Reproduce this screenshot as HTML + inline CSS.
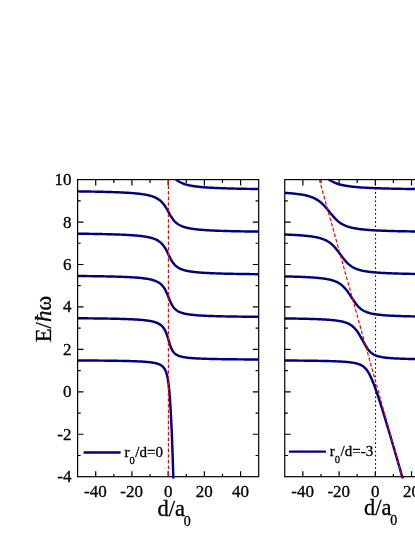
<!DOCTYPE html>
<html><head><meta charset="utf-8"><title>chart</title>
<style>
html,body{margin:0;padding:0;background:#fff;}
body{width:415px;height:537px;overflow:hidden;}
svg{display:block;will-change:transform;}
text{font-family:"Liberation Serif",serif;fill:#000;stroke:#000;stroke-width:0.3px;}
.tk{font-size:17px;}
.lg{font-size:15px;}
.ti{font-size:22.5px;}
.ti2{font-size:22.8px;}
</style></head><body>
<svg width="415" height="537" viewBox="0 0 415 537">
<rect width="415" height="537" fill="#fff"/>
<defs><clipPath id="cl"><rect x="77.60" y="179.60" width="181.10" height="298.90"/></clipPath>
<clipPath id="cr"><rect x="284.75" y="179.60" width="181.10" height="298.90"/></clipPath></defs>
<rect x="77.60" y="179.60" width="181.10" height="297.10" fill="none" stroke="#000" stroke-width="1.2"/>
<path d="M95.71 476.70 v-5.50 M95.71 179.60 v5.90 M113.82 476.70 v-2.70 M113.82 179.60 v3.30 M131.93 476.70 v-5.50 M131.93 179.60 v5.90 M150.04 476.70 v-2.70 M150.04 179.60 v3.30 M168.15 476.70 v-5.50 M168.15 179.60 v5.90 M186.26 476.70 v-2.70 M186.26 179.60 v3.30 M204.37 476.70 v-5.50 M204.37 179.60 v5.90 M222.48 476.70 v-2.70 M222.48 179.60 v3.30 M240.59 476.70 v-5.50 M240.59 179.60 v5.90 M77.60 455.48 h3.10 M258.70 455.48 h-3.10 M77.60 434.26 h5.90 M258.70 434.26 h-5.90 M77.60 413.04 h3.10 M258.70 413.04 h-3.10 M77.60 391.81 h5.90 M258.70 391.81 h-5.90 M77.60 370.59 h3.10 M258.70 370.59 h-3.10 M77.60 349.37 h5.90 M258.70 349.37 h-5.90 M77.60 328.15 h3.10 M258.70 328.15 h-3.10 M77.60 306.93 h5.90 M258.70 306.93 h-5.90 M77.60 285.71 h3.10 M258.70 285.71 h-3.10 M77.60 264.49 h5.90 M258.70 264.49 h-5.90 M77.60 243.26 h3.10 M258.70 243.26 h-3.10 M77.60 222.04 h5.90 M258.70 222.04 h-5.90 M77.60 200.82 h3.10 M258.70 200.82 h-3.10" stroke="#000" stroke-width="1.2" fill="none"/>
<g clip-path="url(#cl)" fill="none" stroke="#00007f" stroke-width="2.45" stroke-linejoin="round">
<path d="M174.43 519.13 L174.42 518.42 L174.40 517.70 L174.38 516.98 L174.36 516.26 L174.35 515.53 L174.33 514.80 L174.31 514.06 L174.29 513.32 L174.27 512.57 L174.25 511.82 L174.23 511.14 L174.22 510.45 L174.20 509.76 L174.18 509.07 L174.16 508.37 L174.15 507.67 L174.13 506.97 L174.11 506.26 L174.09 505.56 L174.07 504.85 L174.06 504.13 L174.04 503.42 L174.02 502.70 L174.00 501.98 L173.98 501.25 L173.96 500.53 L173.94 499.80 L173.92 499.07 L173.90 498.33 L173.88 497.60 L173.86 496.86 L173.84 496.12 L173.82 495.38 L173.80 494.63 L173.78 493.88 L173.76 493.14 L173.74 492.38 L173.72 491.63 L173.70 490.88 L173.68 490.12 L173.66 489.44 L173.64 488.75 L173.62 488.07 L173.60 487.38 L173.58 486.69 L173.56 486.01 L173.54 485.32 L173.52 484.62 L173.50 483.93 L173.48 483.24 L173.46 482.54 L173.44 481.85 L173.42 481.15 L173.40 480.45 L173.38 479.75 L173.36 479.05 L173.34 478.35 L173.32 477.65 L173.30 476.94 L173.28 476.24 L173.26 475.54 L173.24 474.83 L173.21 474.12 L173.19 473.42 L173.17 472.71 L173.15 472.00 L173.13 471.29 L173.11 470.59 L173.08 469.88 L173.06 469.17 L173.04 468.46 L173.02 467.75 L172.99 467.03 L172.97 466.32 L172.95 465.61 L172.93 464.90 L172.90 464.19 L172.88 463.48 L172.86 462.76 L172.83 462.05 L172.81 461.34 L172.79 460.63 L172.76 459.91 L172.74 459.20 L172.72 458.49 L172.69 457.78 L172.67 457.06 L172.64 456.35 L172.62 455.64 L172.60 454.93 L172.57 454.22 L172.55 453.51 L172.52 452.80 L172.50 452.09 L172.47 451.38 L172.45 450.67 L172.42 449.96 L172.40 449.25 L172.37 448.54 L172.35 447.84 L172.32 447.13 L172.29 446.42 L172.27 445.72 L172.24 445.02 L172.22 444.31 L172.19 443.61 L172.16 442.91 L172.14 442.21 L172.11 441.51 L172.08 440.81 L172.06 440.11 L172.03 439.41 L172.00 438.72 L171.97 438.02 L171.95 437.33 L171.92 436.64 L171.89 435.95 L171.86 435.26 L171.84 434.57 L171.81 433.88 L171.78 433.19 L171.75 432.51 L171.72 431.83 L171.69 431.14 L171.66 430.46 L171.63 429.79 L171.61 429.11 L171.58 428.43 L171.55 427.76 L171.52 427.09 L171.49 426.42 L171.45 425.67 L171.42 424.93 L171.39 424.19 L171.35 423.46 L171.32 422.72 L171.28 421.99 L171.25 421.26 L171.21 420.53 L171.18 419.81 L171.14 419.09 L171.11 418.37 L171.07 417.65 L171.03 416.94 L171.00 416.22 L170.96 415.52 L170.92 414.81 L170.89 414.11 L170.85 413.41 L170.81 412.71 L170.77 412.01 L170.73 411.32 L170.70 410.63 L170.66 409.95 L170.62 409.27 L170.58 408.59 L170.54 407.91 L170.50 407.24 L170.46 406.57 L170.42 405.91 L170.38 405.24 L170.33 404.58 L170.29 403.86 L170.24 403.15 L170.19 402.43 L170.15 401.73 L170.10 401.02 L170.05 400.32 L170.00 399.63 L169.95 398.94 L169.90 398.25 L169.85 397.57 L169.80 396.90 L169.75 396.23 L169.69 395.56 L169.64 394.90 L169.59 394.24 L169.53 393.59 L169.47 392.94 L169.41 392.24 L169.35 391.55 L169.29 390.86 L169.22 390.18 L169.16 389.51 L169.09 388.84 L169.02 388.18 L168.95 387.52 L168.88 386.87 L168.81 386.23 L168.73 385.59 L168.66 384.96 L168.58 384.29 L168.49 383.62 L168.40 382.96 L168.31 382.31 L168.22 381.67 L168.12 381.04 L168.03 380.41 L167.93 379.80 L167.82 379.19 L167.72 378.59 L167.61 378.00 L167.48 377.37 L167.35 376.75 L167.22 376.14 L167.08 375.55 L166.94 374.96 L166.79 374.38 L166.63 373.82 L166.46 373.26 L166.29 372.72 L166.11 372.19 L165.91 371.66 L165.71 371.15 L165.50 370.65 L165.27 370.16 L165.02 369.68 L164.77 369.21 L164.49 368.75 L164.19 368.30 L163.88 367.87 L163.56 367.47 L163.22 367.09 L162.85 366.72 L162.49 366.38 L162.10 366.05 L161.68 365.73 L161.26 365.44 L160.81 365.16 L160.33 364.89 L159.85 364.65 L159.34 364.42 L158.85 364.21 L158.32 364.01 L157.75 363.81 L157.21 363.64 L156.63 363.47 L156.01 363.31 L155.42 363.17 L154.80 363.03 L154.14 362.90 L153.53 362.79 L152.89 362.68 L152.21 362.57 L151.49 362.46 L150.85 362.38 L150.18 362.29 L149.46 362.21 L148.71 362.12 L147.92 362.04 L147.25 361.98 L146.54 361.92 L145.81 361.86 L145.04 361.80 L144.22 361.74 L143.37 361.68 L142.70 361.64 L142.00 361.59 L141.28 361.55 L140.53 361.51 L139.74 361.47 L138.93 361.43 L138.08 361.39 L137.19 361.35 L136.26 361.31 L135.29 361.27 L134.28 361.24 L133.58 361.21 L132.86 361.19 L132.12 361.16 L131.35 361.14 L130.56 361.11 L129.75 361.09 L128.91 361.07 L128.04 361.04 L127.14 361.02 L126.21 361.00 L125.25 360.98 L124.26 360.95 L123.24 360.93 L122.18 360.91 L121.08 360.89 L119.94 360.87 L118.76 360.85 L117.54 360.83 L116.27 360.81 L114.96 360.79 L113.60 360.77 L112.89 360.76 L112.18 360.75 L111.45 360.74 L110.71 360.73 L109.95 360.72 L109.18 360.71 L108.39 360.70 L107.59 360.69 L106.77 360.68 L105.93 360.67 L105.08 360.66 L104.21 360.65 L103.32 360.64 L102.42 360.64 L101.49 360.63 L100.55 360.62 L99.58 360.61 L98.60 360.60 L97.59 360.59 L96.56 360.58 L95.51 360.57 L94.44 360.57 L93.34 360.56 L92.22 360.55 L91.07 360.54 L89.90 360.53 L88.70 360.52 L87.47 360.52 L86.21 360.51 L84.93 360.50 L83.61 360.49 L82.27 360.48 L80.89 360.48 L79.47 360.47 L78.03 360.46 L76.55 360.45 L75.03 360.44 L73.47 360.44 L71.88 360.43 L70.24 360.42 L68.56 360.41 L66.84 360.41 L65.08 360.40 L63.27 360.39 L61.41 360.39 L59.50 360.38 L57.54 360.37 L55.53 360.36 L53.46 360.36 L51.33 360.35 L49.15 360.34 L46.90 360.34 L44.59 360.33 L42.22 360.32 L39.77 360.32 L37.25 360.31 L34.66 360.31 L31.99 360.30 L29.25 360.29 L26.41 360.29 L23.49 360.28"/>
<path d="M385.45 359.78 L382.99 359.78 L380.58 359.78 L378.21 359.78 L375.88 359.77 L373.59 359.77 L371.34 359.77 L369.12 359.77 L366.94 359.76 L364.80 359.76 L362.69 359.76 L360.61 359.76 L358.57 359.75 L356.56 359.75 L354.58 359.75 L352.63 359.75 L350.72 359.74 L348.83 359.74 L346.97 359.74 L345.14 359.74 L343.34 359.73 L341.57 359.73 L339.82 359.73 L338.10 359.73 L336.40 359.72 L334.74 359.72 L333.09 359.72 L331.47 359.72 L329.88 359.71 L328.30 359.71 L326.75 359.71 L325.23 359.70 L323.72 359.70 L322.24 359.70 L320.78 359.70 L319.33 359.69 L317.91 359.69 L316.51 359.69 L315.13 359.69 L313.77 359.68 L312.43 359.68 L311.10 359.68 L309.80 359.67 L308.51 359.67 L307.24 359.67 L305.98 359.67 L304.75 359.66 L303.53 359.66 L302.32 359.66 L301.14 359.65 L299.97 359.65 L298.81 359.65 L297.67 359.65 L296.54 359.64 L295.43 359.64 L294.34 359.64 L293.25 359.63 L292.19 359.63 L291.13 359.63 L290.09 359.62 L289.06 359.62 L288.05 359.62 L287.05 359.62 L286.06 359.61 L285.08 359.61 L284.11 359.61 L283.16 359.60 L282.22 359.60 L281.29 359.60 L280.37 359.59 L279.47 359.59 L278.57 359.59 L277.68 359.58 L276.81 359.58 L275.95 359.58 L275.09 359.57 L274.25 359.57 L273.42 359.57 L272.59 359.56 L271.78 359.56 L270.98 359.56 L270.18 359.55 L269.40 359.55 L268.62 359.55 L267.85 359.54 L267.09 359.54 L266.34 359.54 L265.60 359.53 L264.87 359.53 L264.14 359.53 L263.43 359.52 L262.72 359.52 L262.02 359.52 L260.64 359.51 L259.29 359.50 L257.98 359.50 L256.69 359.49 L255.43 359.48 L254.19 359.47 L252.98 359.47 L251.80 359.46 L250.64 359.45 L249.51 359.45 L248.40 359.44 L247.31 359.43 L246.25 359.42 L245.21 359.42 L244.18 359.41 L243.18 359.40 L242.20 359.39 L241.24 359.38 L240.29 359.38 L239.37 359.37 L238.46 359.36 L237.57 359.35 L236.69 359.34 L235.84 359.34 L235.00 359.33 L234.17 359.32 L233.36 359.31 L232.57 359.30 L231.79 359.29 L231.02 359.29 L230.27 359.28 L229.53 359.27 L228.81 359.26 L228.10 359.25 L227.40 359.24 L226.37 359.23 L225.37 359.22 L224.40 359.20 L223.45 359.19 L222.52 359.18 L221.62 359.16 L220.74 359.15 L219.89 359.13 L219.05 359.12 L218.24 359.11 L217.44 359.09 L216.66 359.08 L215.91 359.06 L215.17 359.05 L214.44 359.03 L213.74 359.02 L213.05 359.00 L212.15 358.98 L211.28 358.96 L210.44 358.94 L209.62 358.92 L208.83 358.90 L208.06 358.88 L207.31 358.86 L206.58 358.84 L205.88 358.82 L205.19 358.79 L204.36 358.77 L203.55 358.74 L202.77 358.71 L202.02 358.68 L201.29 358.65 L200.59 358.62 L199.91 358.59 L199.12 358.56 L198.36 358.52 L197.63 358.49 L196.93 358.45 L196.25 358.41 L195.49 358.37 L194.75 358.32 L194.05 358.28 L193.38 358.23 L192.64 358.18 L191.94 358.12 L191.26 358.07 L190.62 358.01 L189.92 357.95 L189.26 357.88 L188.56 357.81 L187.90 357.74 L187.27 357.66 L186.60 357.58 L185.98 357.49 L185.33 357.40 L184.72 357.30 L184.09 357.19 L183.46 357.08 L182.86 356.96 L182.26 356.83 L181.65 356.69 L181.09 356.54 L180.53 356.39 L179.97 356.22 L179.42 356.04 L178.88 355.84 L178.38 355.64 L177.89 355.43 L177.41 355.20 L176.95 354.95 L176.50 354.69 L176.06 354.41 L175.64 354.12 L175.23 353.80 L174.84 353.47 L174.47 353.13 L174.12 352.77 L173.78 352.39 L173.46 352.00 L173.16 351.60 L172.87 351.18 L172.59 350.74 L172.32 350.30 L172.07 349.85 L171.83 349.38 L171.59 348.90 L171.37 348.41 L171.15 347.92 L170.95 347.42 L170.75 346.91 L170.56 346.40 L170.37 345.89 L170.19 345.37 L170.01 344.84 L169.84 344.31 L169.67 343.78 L169.50 343.24 L169.33 342.70 L169.17 342.16 L169.00 341.62 L168.84 341.07 L168.68 340.53 L168.51 339.98 L168.35 339.43 L168.19 338.88 L168.02 338.33 L167.85 337.78 L167.68 337.23 L167.51 336.70 L167.34 336.17 L167.16 335.64 L166.98 335.11 L166.80 334.59 L166.61 334.07 L166.41 333.55 L166.21 333.03 L166.00 332.52 L165.79 332.03 L165.58 331.54 L165.35 331.06 L165.12 330.58 L164.87 330.10 L164.62 329.65 L164.36 329.20 L164.09 328.76 L163.81 328.33 L163.52 327.92 L163.21 327.50 L162.90 327.11 L162.57 326.72 L162.23 326.35 L161.87 325.99 L161.50 325.65 L161.12 325.31 L160.72 324.99 L160.32 324.69 L159.89 324.39 L159.45 324.11 L159.01 323.85 L158.54 323.59 L158.06 323.35 L157.58 323.12 L157.07 322.90 L156.55 322.69 L156.03 322.49 L155.49 322.30 L154.94 322.13 L154.39 321.96 L153.81 321.80 L153.24 321.65 L152.64 321.50 L152.05 321.37 L151.47 321.25 L150.86 321.13 L150.22 321.01 L149.60 320.90 L148.95 320.79 L148.32 320.69 L147.67 320.60 L147.05 320.51 L146.40 320.43 L145.72 320.34 L145.08 320.27 L144.41 320.20 L143.72 320.12 L143.08 320.06 L142.42 320.00 L141.73 319.94 L141.01 319.88 L140.36 319.82 L139.68 319.77 L138.98 319.72 L138.26 319.67 L137.51 319.62 L136.84 319.57 L136.15 319.53 L135.44 319.49 L134.71 319.45 L133.95 319.41 L133.17 319.36 L132.49 319.33 L131.80 319.30 L131.09 319.26 L130.35 319.23 L129.60 319.20 L128.82 319.17 L128.02 319.14 L127.19 319.10 L126.52 319.08 L125.82 319.05 L125.11 319.03 L124.38 319.01 L123.63 318.98 L122.86 318.96 L122.07 318.93 L121.26 318.91 L120.43 318.89 L119.58 318.86 L118.70 318.84 L117.80 318.82 L117.11 318.80 L116.41 318.78 L115.69 318.77 L114.96 318.75 L114.21 318.73 L113.44 318.72 L112.66 318.70 L111.86 318.68 L111.05 318.67 L110.21 318.65 L109.36 318.64 L108.49 318.62 L107.60 318.60 L106.69 318.59 L105.76 318.57 L104.81 318.56 L103.84 318.54 L102.84 318.53 L101.82 318.51 L101.13 318.50 L100.43 318.49 L99.71 318.48 L98.99 318.47 L98.25 318.46 L97.50 318.45 L96.74 318.44 L95.97 318.43 L95.18 318.42 L94.38 318.41 L93.57 318.41 L92.75 318.40 L91.91 318.39 L91.05 318.38 L90.19 318.37 L89.30 318.36 L88.41 318.35 L87.49 318.34 L86.57 318.33 L85.62 318.32 L84.66 318.31 L83.68 318.30 L82.69 318.30 L81.68 318.29 L80.65 318.28 L79.60 318.27 L78.53 318.26 L77.44 318.25 L76.33 318.24 L75.21 318.24 L74.06 318.23 L72.89 318.22 L71.70 318.21 L70.48 318.20 L69.25 318.19 L67.98 318.19 L66.70 318.18 L65.39 318.17 L64.05 318.16 L62.69 318.15 L61.30 318.15 L60.60 318.14 L59.89 318.14 L59.17 318.13 L58.44 318.13 L57.71 318.13 L56.97 318.12 L56.22 318.12 L55.47 318.11 L54.70 318.11 L53.93 318.11 L53.16 318.10 L52.37 318.10 L51.57 318.09 L50.77 318.09 L49.96 318.09 L49.14 318.08 L48.31 318.08 L47.48 318.08 L46.63 318.07 L45.77 318.07 L44.91 318.07 L44.04 318.06 L43.16 318.06 L42.26 318.05 L41.36 318.05 L40.45 318.05 L39.53 318.04 L38.60 318.04 L37.66 318.04 L36.71 318.03 L35.75 318.03 L34.78 318.03 L33.79 318.02 L32.80 318.02 L31.80 318.01 L30.78 318.01 L29.75 318.01 L28.71 318.00 L27.66 318.00 L26.60 318.00 L25.53 317.99 L24.44 317.99 L23.34 317.99"/>
<path d="M384.05 317.24 L382.07 317.23 L380.11 317.23 L378.18 317.23 L376.27 317.23 L374.39 317.22 L372.54 317.22 L370.71 317.22 L368.90 317.21 L367.12 317.21 L365.36 317.21 L363.63 317.21 L361.92 317.20 L360.23 317.20 L358.57 317.20 L356.92 317.19 L355.30 317.19 L353.69 317.19 L352.11 317.18 L350.55 317.18 L349.01 317.18 L347.49 317.18 L345.98 317.17 L344.50 317.17 L343.03 317.17 L341.59 317.16 L340.16 317.16 L338.75 317.16 L337.35 317.15 L335.98 317.15 L334.61 317.15 L333.27 317.14 L331.94 317.14 L330.63 317.14 L329.34 317.13 L328.06 317.13 L326.79 317.13 L325.54 317.12 L324.31 317.12 L323.09 317.12 L321.88 317.12 L320.69 317.11 L319.51 317.11 L318.34 317.11 L317.19 317.10 L316.06 317.10 L314.93 317.09 L313.82 317.09 L312.72 317.09 L311.63 317.08 L310.56 317.08 L309.50 317.08 L308.45 317.07 L307.41 317.07 L306.38 317.07 L305.36 317.06 L304.36 317.06 L303.36 317.06 L302.38 317.05 L301.41 317.05 L300.45 317.05 L299.50 317.04 L298.56 317.04 L297.63 317.04 L296.71 317.03 L295.80 317.03 L294.89 317.02 L294.00 317.02 L293.12 317.02 L292.25 317.01 L291.38 317.01 L290.53 317.01 L289.68 317.00 L288.85 317.00 L288.02 316.99 L287.20 316.99 L286.39 316.99 L285.58 316.98 L284.79 316.98 L284.00 316.98 L283.22 316.97 L282.45 316.97 L281.69 316.96 L280.94 316.96 L280.19 316.96 L279.45 316.95 L278.71 316.95 L277.99 316.95 L277.27 316.94 L276.56 316.94 L275.85 316.93 L275.16 316.93 L273.78 316.92 L272.43 316.91 L271.11 316.91 L269.81 316.90 L268.54 316.89 L267.29 316.88 L266.07 316.87 L264.86 316.86 L263.68 316.86 L262.52 316.85 L261.39 316.84 L260.27 316.83 L259.17 316.82 L258.09 316.81 L257.03 316.80 L256.00 316.80 L254.97 316.79 L253.97 316.78 L252.98 316.77 L252.01 316.76 L251.06 316.75 L250.13 316.74 L249.21 316.73 L248.30 316.72 L247.41 316.72 L246.54 316.71 L245.68 316.70 L244.83 316.69 L244.00 316.68 L243.18 316.67 L242.37 316.66 L241.58 316.65 L240.80 316.64 L240.03 316.63 L239.28 316.62 L238.54 316.61 L237.80 316.60 L237.08 316.59 L236.38 316.58 L235.68 316.57 L234.65 316.56 L233.65 316.54 L232.67 316.53 L231.71 316.51 L230.77 316.50 L229.86 316.48 L228.96 316.46 L228.08 316.45 L227.23 316.43 L226.39 316.42 L225.56 316.40 L224.76 316.38 L223.97 316.37 L223.20 316.35 L222.45 316.34 L221.71 316.32 L220.99 316.30 L220.28 316.28 L219.58 316.27 L218.68 316.24 L217.79 316.22 L216.94 316.20 L216.10 316.18 L215.29 316.15 L214.49 316.13 L213.72 316.10 L212.97 316.08 L212.23 316.06 L211.51 316.03 L210.81 316.01 L210.13 315.98 L209.30 315.95 L208.49 315.92 L207.71 315.89 L206.95 315.85 L206.21 315.82 L205.50 315.79 L204.80 315.75 L204.12 315.72 L203.33 315.68 L202.57 315.64 L201.83 315.60 L201.12 315.55 L200.43 315.51 L199.76 315.47 L199.00 315.42 L198.27 315.37 L197.57 315.32 L196.89 315.26 L196.24 315.21 L195.51 315.15 L194.82 315.09 L194.15 315.03 L193.51 314.96 L192.81 314.89 L192.14 314.82 L191.50 314.74 L190.82 314.66 L190.16 314.58 L189.54 314.49 L188.88 314.39 L188.25 314.30 L187.59 314.19 L186.97 314.08 L186.37 313.97 L185.76 313.85 L185.18 313.73 L184.58 313.59 L184.01 313.46 L183.43 313.31 L182.88 313.16 L182.32 312.99 L181.77 312.82 L181.24 312.64 L180.71 312.44 L180.18 312.24 L179.68 312.03 L179.19 311.80 L178.70 311.56 L178.24 311.31 L177.78 311.05 L177.33 310.77 L176.90 310.49 L176.49 310.19 L176.09 309.88 L175.70 309.56 L175.32 309.22 L174.96 308.87 L174.60 308.51 L174.26 308.14 L173.93 307.75 L173.61 307.35 L173.31 306.95 L173.01 306.53 L172.72 306.10 L172.44 305.67 L172.18 305.23 L171.91 304.78 L171.66 304.32 L171.41 303.85 L171.17 303.38 L170.94 302.91 L170.71 302.43 L170.49 301.95 L170.27 301.47 L170.05 300.96 L169.84 300.46 L169.62 299.95 L169.41 299.44 L169.20 298.93 L168.99 298.41 L168.79 297.90 L168.58 297.38 L168.38 296.88 L168.18 296.38 L167.97 295.88 L167.77 295.38 L167.57 294.89 L167.36 294.39 L167.15 293.89 L166.93 293.39 L166.72 292.90 L166.49 292.41 L166.27 291.92 L166.04 291.43 L165.80 290.94 L165.56 290.48 L165.32 290.01 L165.07 289.55 L164.81 289.10 L164.54 288.65 L164.27 288.21 L163.99 287.78 L163.70 287.36 L163.40 286.94 L163.09 286.54 L162.78 286.14 L162.44 285.75 L162.11 285.37 L161.76 285.00 L161.40 284.65 L161.03 284.31 L160.66 283.98 L160.26 283.66 L159.86 283.35 L159.45 283.05 L159.02 282.77 L158.58 282.49 L158.13 282.22 L157.66 281.96 L157.19 281.72 L156.72 281.49 L156.22 281.26 L155.73 281.06 L155.21 280.85 L154.69 280.66 L154.14 280.47 L153.60 280.29 L153.04 280.12 L152.48 279.96 L151.89 279.80 L151.32 279.65 L150.72 279.51 L150.13 279.38 L149.52 279.25 L148.93 279.13 L148.31 279.01 L147.67 278.90 L147.05 278.79 L146.41 278.69 L145.80 278.60 L145.17 278.51 L144.51 278.42 L143.82 278.33 L143.18 278.25 L142.51 278.17 L141.82 278.09 L141.18 278.03 L140.51 277.96 L139.83 277.89 L139.12 277.83 L138.38 277.76 L137.71 277.71 L137.03 277.65 L136.31 277.59 L135.58 277.54 L134.82 277.49 L134.14 277.44 L133.45 277.39 L132.74 277.35 L132.00 277.30 L131.24 277.26 L130.46 277.22 L129.79 277.18 L129.10 277.14 L128.39 277.11 L127.67 277.07 L126.92 277.04 L126.16 277.00 L125.37 276.97 L124.56 276.94 L123.73 276.90 L123.04 276.88 L122.34 276.85 L121.63 276.82 L120.90 276.80 L120.15 276.77 L119.38 276.74 L118.60 276.72 L117.80 276.69 L116.97 276.67 L116.13 276.64 L115.26 276.62 L114.38 276.59 L113.47 276.57 L112.78 276.55 L112.07 276.53 L111.34 276.51 L110.61 276.50 L109.86 276.48 L109.09 276.46 L108.31 276.44 L107.51 276.43 L106.70 276.41 L105.87 276.39 L105.03 276.37 L104.16 276.36 L103.28 276.34 L102.38 276.32 L101.47 276.31 L100.53 276.29 L99.57 276.27 L98.60 276.26 L97.60 276.24 L96.58 276.22 L95.89 276.21 L95.19 276.20 L94.47 276.19 L93.75 276.18 L93.02 276.17 L92.27 276.16 L91.52 276.15 L90.75 276.14 L89.97 276.13 L89.18 276.12 L88.38 276.11 L87.57 276.10 L86.74 276.09 L85.90 276.08 L85.05 276.07 L84.19 276.06 L83.31 276.05 L82.41 276.04 L81.51 276.03 L80.59 276.02 L79.65 276.01 L78.70 276.00 L77.73 275.99 L76.75 275.98 L75.75 275.97 L74.74 275.96 L73.70 275.95 L72.65 275.94 L71.59 275.93 L70.50 275.93 L69.40 275.92 L68.28 275.91 L67.14 275.90 L65.98 275.89 L64.80 275.88 L63.60 275.87 L62.38 275.86 L61.13 275.85 L59.87 275.84 L58.58 275.84 L57.27 275.83 L55.93 275.82 L54.57 275.81 L53.19 275.80 L52.49 275.80 L51.78 275.79 L51.06 275.79 L50.34 275.78 L49.62 275.78 L48.88 275.78 L48.14 275.77 L47.39 275.77 L46.64 275.76 L45.87 275.76 L45.10 275.75 L44.33 275.75 L43.54 275.75 L42.75 275.74 L41.95 275.74 L41.14 275.73 L40.33 275.73 L39.51 275.73 L38.68 275.72 L37.84 275.72 L36.99 275.71 L36.14 275.71 L35.27 275.71 L34.40 275.70 L33.52 275.70 L32.63 275.69 L31.73 275.69 L30.83 275.69 L29.91 275.68 L28.98 275.68 L28.05 275.68 L27.11 275.67 L26.15 275.67 L25.19 275.66 L24.21 275.66"/>
<path d="M384.76 274.72 L382.97 274.72 L381.20 274.71 L379.46 274.71 L377.74 274.71 L376.04 274.70 L374.36 274.70 L372.70 274.70 L371.06 274.70 L369.44 274.69 L367.84 274.69 L366.26 274.69 L364.70 274.68 L363.15 274.68 L361.63 274.68 L360.12 274.67 L358.63 274.67 L357.16 274.67 L355.70 274.66 L354.26 274.66 L352.84 274.66 L351.44 274.65 L350.05 274.65 L348.67 274.65 L347.31 274.64 L345.97 274.64 L344.64 274.63 L343.33 274.63 L342.03 274.63 L340.75 274.62 L339.48 274.62 L338.22 274.62 L336.98 274.61 L335.75 274.61 L334.53 274.61 L333.33 274.60 L332.14 274.60 L330.97 274.60 L329.80 274.59 L328.65 274.59 L327.52 274.59 L326.39 274.58 L325.27 274.58 L324.17 274.57 L323.08 274.57 L322.00 274.57 L320.93 274.56 L319.88 274.56 L318.83 274.56 L317.79 274.55 L316.77 274.55 L315.76 274.54 L314.75 274.54 L313.76 274.54 L312.78 274.53 L311.80 274.53 L310.84 274.53 L309.89 274.52 L308.94 274.52 L308.01 274.51 L307.08 274.51 L306.16 274.51 L305.26 274.50 L304.36 274.50 L303.47 274.49 L302.59 274.49 L301.72 274.49 L300.85 274.48 L300.00 274.48 L299.15 274.47 L298.31 274.47 L297.48 274.47 L296.66 274.46 L295.85 274.46 L295.04 274.45 L294.24 274.45 L293.45 274.45 L292.66 274.44 L291.89 274.44 L291.12 274.43 L290.35 274.43 L289.60 274.43 L288.85 274.42 L288.11 274.42 L287.37 274.41 L286.65 274.41 L285.93 274.40 L285.21 274.40 L284.50 274.40 L283.80 274.39 L282.42 274.38 L281.06 274.37 L279.72 274.37 L278.41 274.36 L277.12 274.35 L275.86 274.34 L274.62 274.33 L273.39 274.32 L272.19 274.31 L271.01 274.30 L269.85 274.30 L268.71 274.29 L267.59 274.28 L266.49 274.27 L265.40 274.26 L264.34 274.25 L263.29 274.24 L262.25 274.23 L261.24 274.22 L260.24 274.21 L259.26 274.20 L258.29 274.19 L257.34 274.18 L256.40 274.17 L255.48 274.16 L254.58 274.15 L253.68 274.14 L252.80 274.13 L251.94 274.12 L251.09 274.11 L250.25 274.10 L249.42 274.09 L248.61 274.08 L247.81 274.07 L247.02 274.06 L246.24 274.05 L245.47 274.04 L244.72 274.03 L243.97 274.02 L243.24 274.01 L242.52 274.00 L241.80 273.99 L241.10 273.98 L240.41 273.97 L239.39 273.95 L238.39 273.94 L237.42 273.92 L236.46 273.90 L235.52 273.89 L234.61 273.87 L233.71 273.85 L232.83 273.84 L231.96 273.82 L231.12 273.80 L230.29 273.78 L229.48 273.77 L228.68 273.75 L227.90 273.73 L227.13 273.71 L226.38 273.70 L225.65 273.68 L224.92 273.66 L224.21 273.64 L223.52 273.62 L222.83 273.61 L221.94 273.58 L221.07 273.56 L220.22 273.53 L219.40 273.51 L218.59 273.48 L217.80 273.46 L217.03 273.43 L216.27 273.40 L215.54 273.38 L214.82 273.35 L214.12 273.32 L213.43 273.30 L212.59 273.26 L211.78 273.23 L210.99 273.20 L210.22 273.16 L209.47 273.13 L208.74 273.09 L208.03 273.06 L207.33 273.02 L206.66 272.98 L205.87 272.94 L205.11 272.90 L204.37 272.85 L203.65 272.81 L202.95 272.76 L202.28 272.71 L201.62 272.67 L200.88 272.61 L200.16 272.56 L199.46 272.50 L198.79 272.45 L198.14 272.39 L197.42 272.33 L196.72 272.26 L196.05 272.19 L195.40 272.12 L194.70 272.05 L194.02 271.97 L193.37 271.89 L192.74 271.81 L192.07 271.72 L191.43 271.63 L190.81 271.54 L190.15 271.44 L189.53 271.33 L188.92 271.23 L188.29 271.11 L187.69 270.99 L187.07 270.87 L186.47 270.73 L185.90 270.60 L185.31 270.46 L184.75 270.31 L184.18 270.15 L183.63 269.99 L183.08 269.82 L182.55 269.64 L182.02 269.45 L181.51 269.25 L180.99 269.04 L180.48 268.82 L179.99 268.60 L179.50 268.35 L179.04 268.11 L178.57 267.85 L178.13 267.58 L177.69 267.30 L177.28 267.01 L176.86 266.71 L176.47 266.40 L176.07 266.08 L175.70 265.75 L175.32 265.40 L174.97 265.05 L174.61 264.68 L174.27 264.30 L173.94 263.92 L173.62 263.52 L173.30 263.12 L173.00 262.71 L172.71 262.30 L172.42 261.87 L172.14 261.44 L171.86 261.00 L171.59 260.56 L171.33 260.11 L171.08 259.67 L170.82 259.20 L170.56 258.73 L170.32 258.26 L170.07 257.79 L169.83 257.31 L169.59 256.83 L169.35 256.35 L169.12 255.87 L168.88 255.39 L168.65 254.91 L168.42 254.42 L168.18 253.94 L167.95 253.46 L167.71 252.98 L167.48 252.49 L167.24 252.01 L166.99 251.53 L166.76 251.07 L166.52 250.60 L166.27 250.14 L166.02 249.69 L165.77 249.23 L165.51 248.78 L165.24 248.32 L164.97 247.87 L164.70 247.44 L164.42 247.02 L164.14 246.59 L163.84 246.17 L163.54 245.75 L163.23 245.36 L162.92 244.96 L162.59 244.57 L162.26 244.20 L161.92 243.83 L161.57 243.46 L161.21 243.12 L160.84 242.77 L160.45 242.43 L160.07 242.11 L159.66 241.80 L159.26 241.50 L158.83 241.20 L158.41 240.92 L157.96 240.65 L157.52 240.39 L157.05 240.13 L156.59 239.89 L156.11 239.65 L155.63 239.43 L155.12 239.21 L154.62 239.01 L154.10 238.81 L153.59 238.62 L153.05 238.44 L152.49 238.26 L151.93 238.09 L151.36 237.92 L150.79 237.77 L150.20 237.62 L149.63 237.48 L149.03 237.34 L148.41 237.21 L147.81 237.09 L147.19 236.96 L146.59 236.85 L145.97 236.75 L145.33 236.64 L144.72 236.54 L144.09 236.45 L143.43 236.35 L142.75 236.26 L142.11 236.17 L141.45 236.09 L140.77 236.01 L140.06 235.93 L139.41 235.86 L138.74 235.79 L138.04 235.72 L137.32 235.65 L136.67 235.59 L136.00 235.53 L135.31 235.47 L134.59 235.42 L133.86 235.36 L133.09 235.30 L132.42 235.25 L131.73 235.21 L131.02 235.16 L130.29 235.11 L129.54 235.07 L128.77 235.02 L128.10 234.98 L127.42 234.94 L126.73 234.91 L126.01 234.87 L125.28 234.83 L124.53 234.80 L123.76 234.76 L122.97 234.72 L122.16 234.69 L121.32 234.65 L120.64 234.62 L119.94 234.60 L119.23 234.57 L118.50 234.54 L117.76 234.51 L116.99 234.49 L116.22 234.46 L115.42 234.43 L114.60 234.41 L113.77 234.38 L112.92 234.35 L112.04 234.33 L111.15 234.30 L110.46 234.28 L109.77 234.26 L109.06 234.24 L108.34 234.22 L107.60 234.21 L106.85 234.19 L106.09 234.17 L105.31 234.15 L104.52 234.13 L103.71 234.11 L102.89 234.10 L102.05 234.08 L101.20 234.06 L100.33 234.04 L99.44 234.02 L98.53 234.01 L97.61 233.99 L96.67 233.97 L95.71 233.95 L94.73 233.94 L93.73 233.92 L92.71 233.90 L92.02 233.89 L91.32 233.88 L90.60 233.87 L89.88 233.86 L89.15 233.85 L88.41 233.84 L87.66 233.82 L86.90 233.81 L86.12 233.80 L85.34 233.79 L84.54 233.78 L83.74 233.77 L82.92 233.76 L82.09 233.75 L81.24 233.74 L80.39 233.73 L79.52 233.72 L78.64 233.71 L77.75 233.70 L76.84 233.69 L75.92 233.68 L74.98 233.67 L74.03 233.66 L73.07 233.65 L72.09 233.64 L71.09 233.63 L70.08 233.62 L69.06 233.61 L68.02 233.60 L66.96 233.59 L65.88 233.58 L64.79 233.57 L63.68 233.56 L62.55 233.55 L61.41 233.54 L60.24 233.53 L59.06 233.52 L57.86 233.51 L56.63 233.50 L55.39 233.49 L54.12 233.48 L52.84 233.47 L51.53 233.46 L50.20 233.45 L48.84 233.45 L47.47 233.44 L46.77 233.43 L46.07 233.43 L45.36 233.42 L44.64 233.42 L43.92 233.41 L43.19 233.41 L42.45 233.41 L41.71 233.40 L40.96 233.40 L40.21 233.39 L39.45 233.39 L38.68 233.38 L37.90 233.38 L37.12 233.38 L36.33 233.37 L35.54 233.37 L34.73 233.36 L33.92 233.36 L33.10 233.35 L32.28 233.35 L31.44 233.35 L30.60 233.34 L29.75 233.34 L28.90 233.33 L28.03 233.33 L27.16 233.32 L26.28 233.32 L25.39 233.32 L24.49 233.31 L23.58 233.31"/>
<path d="M385.18 232.22 L383.52 232.21 L381.88 232.21 L380.25 232.21 L378.65 232.20 L377.07 232.20 L375.50 232.20 L373.95 232.19 L372.42 232.19 L370.90 232.19 L369.40 232.18 L367.92 232.18 L366.46 232.17 L365.01 232.17 L363.58 232.17 L362.16 232.16 L360.76 232.16 L359.37 232.16 L358.00 232.15 L356.64 232.15 L355.30 232.15 L353.97 232.14 L352.66 232.14 L351.36 232.14 L350.07 232.13 L348.80 232.13 L347.54 232.12 L346.29 232.12 L345.06 232.12 L343.84 232.11 L342.63 232.11 L341.43 232.11 L340.25 232.10 L339.08 232.10 L337.92 232.09 L336.77 232.09 L335.64 232.09 L334.51 232.08 L333.40 232.08 L332.30 232.07 L331.21 232.07 L330.13 232.07 L329.06 232.06 L328.00 232.06 L326.96 232.06 L325.92 232.05 L324.89 232.05 L323.87 232.04 L322.87 232.04 L321.87 232.04 L320.88 232.03 L319.90 232.03 L318.93 232.02 L317.97 232.02 L317.02 232.02 L316.08 232.01 L315.15 232.01 L314.22 232.00 L313.31 232.00 L312.40 232.00 L311.51 231.99 L310.62 231.99 L309.73 231.98 L308.86 231.98 L308.00 231.97 L307.14 231.97 L306.29 231.97 L305.45 231.96 L304.62 231.96 L303.79 231.95 L302.97 231.95 L302.16 231.94 L301.36 231.94 L300.56 231.94 L299.77 231.93 L298.99 231.93 L298.21 231.92 L297.45 231.92 L296.68 231.91 L295.93 231.91 L295.18 231.91 L294.44 231.90 L293.70 231.90 L292.98 231.89 L292.25 231.89 L291.54 231.88 L290.83 231.88 L290.12 231.87 L289.43 231.87 L288.05 231.86 L286.70 231.85 L285.36 231.84 L284.06 231.83 L282.77 231.82 L281.50 231.82 L280.26 231.81 L279.04 231.80 L277.83 231.79 L276.65 231.78 L275.48 231.77 L274.34 231.76 L273.21 231.75 L272.10 231.74 L271.01 231.73 L269.93 231.72 L268.87 231.71 L267.83 231.70 L266.81 231.69 L265.80 231.68 L264.80 231.67 L263.82 231.66 L262.86 231.65 L261.91 231.64 L260.98 231.63 L260.05 231.62 L259.15 231.61 L258.25 231.60 L257.37 231.59 L256.50 231.58 L255.65 231.57 L254.80 231.56 L253.97 231.55 L253.16 231.54 L252.35 231.53 L251.55 231.51 L250.77 231.50 L249.99 231.49 L249.23 231.48 L248.48 231.47 L247.74 231.46 L247.01 231.45 L246.29 231.44 L245.58 231.43 L244.87 231.42 L244.18 231.40 L243.16 231.39 L242.16 231.37 L241.18 231.35 L240.22 231.34 L239.28 231.32 L238.36 231.30 L237.45 231.28 L236.56 231.27 L235.69 231.25 L234.84 231.23 L234.00 231.21 L233.18 231.19 L232.37 231.18 L231.58 231.16 L230.80 231.14 L230.04 231.12 L229.29 231.10 L228.55 231.08 L227.83 231.06 L227.12 231.04 L226.43 231.03 L225.74 231.01 L224.85 230.98 L223.97 230.95 L223.12 230.93 L222.29 230.90 L221.47 230.87 L220.67 230.85 L219.90 230.82 L219.13 230.79 L218.39 230.77 L217.66 230.74 L216.95 230.71 L216.25 230.68 L215.56 230.66 L214.73 230.62 L213.92 230.58 L213.13 230.55 L212.36 230.51 L211.61 230.47 L210.87 230.44 L210.16 230.40 L209.46 230.36 L208.78 230.33 L208.12 230.29 L207.35 230.24 L206.60 230.19 L205.86 230.15 L205.15 230.10 L204.46 230.05 L203.79 230.00 L203.14 229.96 L202.40 229.90 L201.68 229.84 L200.98 229.78 L200.31 229.72 L199.66 229.66 L198.93 229.60 L198.23 229.53 L197.55 229.46 L196.90 229.39 L196.27 229.31 L195.58 229.23 L194.91 229.15 L194.27 229.07 L193.65 228.98 L192.99 228.89 L192.35 228.79 L191.73 228.70 L191.08 228.59 L190.45 228.48 L189.85 228.37 L189.21 228.25 L188.61 228.13 L188.03 228.00 L187.42 227.87 L186.84 227.73 L186.24 227.58 L185.67 227.43 L185.12 227.27 L184.55 227.11 L184.02 226.94 L183.47 226.75 L182.94 226.57 L182.41 226.37 L181.90 226.16 L181.38 225.95 L180.89 225.73 L180.40 225.49 L179.92 225.25 L179.45 225.00 L178.99 224.74 L178.54 224.47 L178.10 224.19 L177.67 223.89 L177.25 223.59 L176.85 223.29 L176.45 222.97 L176.07 222.65 L175.68 222.31 L175.32 221.96 L174.96 221.61 L174.61 221.24 L174.26 220.87 L173.93 220.50 L173.60 220.10 L173.28 219.71 L172.97 219.31 L172.67 218.90 L172.37 218.50 L172.07 218.07 L171.78 217.64 L171.50 217.21 L171.22 216.77 L170.95 216.34 L170.68 215.90 L170.42 215.46 L170.16 215.02 L169.90 214.57 L169.65 214.12 L169.39 213.66 L169.13 213.20 L168.87 212.73 L168.61 212.27 L168.35 211.80 L168.09 211.33 L167.84 210.87 L167.59 210.42 L167.33 209.97 L167.08 209.52 L166.82 209.07 L166.56 208.62 L166.30 208.18 L166.03 207.73 L165.76 207.29 L165.48 206.85 L165.20 206.41 L164.91 205.98 L164.62 205.56 L164.33 205.14 L164.03 204.73 L163.72 204.32 L163.41 203.92 L163.09 203.53 L162.77 203.14 L162.43 202.76 L162.08 202.38 L161.74 202.02 L161.38 201.66 L161.01 201.31 L160.64 200.98 L160.25 200.64 L159.85 200.32 L159.45 200.00 L159.04 199.70 L158.62 199.41 L158.19 199.12 L157.74 198.84 L157.29 198.57 L156.82 198.31 L156.35 198.06 L155.87 197.82 L155.39 197.59 L154.89 197.36 L154.39 197.15 L153.87 196.94 L153.36 196.75 L152.83 196.56 L152.28 196.37 L151.74 196.19 L151.17 196.02 L150.62 195.86 L150.05 195.70 L149.45 195.55 L148.87 195.40 L148.27 195.26 L147.70 195.13 L147.09 195.01 L146.47 194.88 L145.88 194.77 L145.26 194.65 L144.62 194.54 L144.01 194.44 L143.39 194.34 L142.74 194.24 L142.07 194.15 L141.44 194.06 L140.79 193.97 L140.12 193.89 L139.43 193.81 L138.79 193.73 L138.13 193.66 L137.45 193.59 L136.75 193.51 L136.03 193.44 L135.37 193.38 L134.70 193.32 L134.01 193.26 L133.29 193.20 L132.56 193.14 L131.80 193.08 L131.13 193.03 L130.44 192.98 L129.74 192.93 L129.01 192.88 L128.27 192.84 L127.50 192.79 L126.71 192.74 L126.04 192.70 L125.35 192.66 L124.64 192.62 L123.92 192.58 L123.18 192.55 L122.42 192.51 L121.64 192.47 L120.84 192.43 L120.02 192.40 L119.35 192.37 L118.66 192.34 L117.97 192.31 L117.25 192.28 L116.52 192.25 L115.78 192.22 L115.02 192.20 L114.24 192.17 L113.45 192.14 L112.64 192.11 L111.81 192.08 L110.96 192.06 L110.09 192.03 L109.21 192.00 L108.30 191.98 L107.61 191.96 L106.90 191.94 L106.18 191.92 L105.45 191.90 L104.71 191.88 L103.95 191.86 L103.18 191.84 L102.40 191.82 L101.60 191.80 L100.79 191.78 L99.96 191.76 L99.12 191.74 L98.26 191.73 L97.39 191.71 L96.50 191.69 L95.59 191.67 L94.66 191.65 L93.72 191.63 L92.76 191.62 L91.78 191.60 L90.78 191.58 L89.76 191.56 L89.07 191.55 L88.37 191.54 L87.66 191.53 L86.95 191.52 L86.22 191.51 L85.48 191.49 L84.73 191.48 L83.98 191.47 L83.21 191.46 L82.43 191.45 L81.64 191.44 L80.84 191.43 L80.03 191.41 L79.21 191.40 L78.37 191.39 L77.53 191.38 L76.67 191.37 L75.80 191.36 L74.92 191.35 L74.02 191.34 L73.12 191.33 L72.19 191.32 L71.26 191.31 L70.31 191.30 L69.35 191.29 L68.37 191.28 L67.38 191.26 L66.38 191.25 L65.35 191.24 L64.32 191.23 L63.27 191.22 L62.20 191.21 L61.11 191.20 L60.01 191.19 L58.89 191.18 L57.76 191.17 L56.60 191.16 L55.43 191.15 L54.24 191.14 L53.03 191.13 L51.80 191.12 L50.55 191.11 L49.29 191.11 L48.00 191.10 L46.69 191.09 L45.35 191.08 L44.00 191.07 L42.62 191.06 L41.93 191.05 L41.22 191.05 L40.51 191.04 L39.80 191.04 L39.08 191.03 L38.35 191.03 L37.62 191.03 L36.88 191.02 L36.13 191.02 L35.38 191.01 L34.62 191.01 L33.86 191.00 L33.09 191.00 L32.31 190.99 L31.53 190.99 L30.73 190.99 L29.94 190.98 L29.13 190.98 L28.32 190.97 L27.50 190.97 L26.67 190.96 L25.84 190.96 L25.00 190.95 L24.15 190.95 L23.29 190.95"/>
<path d="M384.76 189.72 L383.20 189.71 L381.66 189.71 L380.13 189.71 L378.62 189.70 L377.13 189.70 L375.65 189.70 L374.19 189.69 L372.74 189.69 L371.31 189.68 L369.89 189.68 L368.49 189.68 L367.10 189.67 L365.73 189.67 L364.37 189.67 L363.03 189.66 L361.69 189.66 L360.38 189.66 L359.07 189.65 L357.78 189.65 L356.50 189.64 L355.24 189.64 L353.99 189.64 L352.75 189.63 L351.52 189.63 L350.31 189.62 L349.11 189.62 L347.91 189.62 L346.74 189.61 L345.57 189.61 L344.41 189.60 L343.27 189.60 L342.14 189.60 L341.01 189.59 L339.90 189.59 L338.80 189.58 L337.71 189.58 L336.63 189.58 L335.56 189.57 L334.50 189.57 L333.45 189.56 L332.41 189.56 L331.38 189.56 L330.36 189.55 L329.35 189.55 L328.35 189.54 L327.36 189.54 L326.38 189.54 L325.41 189.53 L324.44 189.53 L323.49 189.52 L322.54 189.52 L321.60 189.51 L320.68 189.51 L319.75 189.51 L318.84 189.50 L317.94 189.50 L317.04 189.49 L316.15 189.49 L315.27 189.48 L314.40 189.48 L313.54 189.48 L312.68 189.47 L311.83 189.47 L310.99 189.46 L310.16 189.46 L309.33 189.45 L308.51 189.45 L307.70 189.45 L306.89 189.44 L306.09 189.44 L305.30 189.43 L304.52 189.43 L303.74 189.42 L302.97 189.42 L302.20 189.41 L301.44 189.41 L300.69 189.40 L299.95 189.40 L299.21 189.40 L298.48 189.39 L297.75 189.39 L297.03 189.38 L296.31 189.38 L295.60 189.37 L294.90 189.37 L294.20 189.36 L292.83 189.35 L291.47 189.34 L290.14 189.34 L288.83 189.33 L287.54 189.32 L286.27 189.31 L285.02 189.30 L283.80 189.29 L282.59 189.28 L281.40 189.27 L280.22 189.26 L279.07 189.25 L277.93 189.24 L276.82 189.23 L275.71 189.22 L274.63 189.21 L273.56 189.20 L272.51 189.19 L271.47 189.18 L270.45 189.17 L269.45 189.16 L268.45 189.15 L267.48 189.14 L266.52 189.13 L265.57 189.11 L264.63 189.10 L263.71 189.09 L262.80 189.08 L261.91 189.07 L261.03 189.06 L260.16 189.05 L259.30 189.04 L258.45 189.03 L257.62 189.02 L256.80 189.01 L255.98 189.00 L255.18 188.98 L254.40 188.97 L253.62 188.96 L252.85 188.95 L252.09 188.94 L251.34 188.93 L250.61 188.92 L249.88 188.90 L249.16 188.89 L248.45 188.88 L247.75 188.87 L247.06 188.86 L246.05 188.84 L245.05 188.82 L244.07 188.81 L243.11 188.79 L242.16 188.77 L241.24 188.75 L240.33 188.73 L239.44 188.71 L238.57 188.70 L237.71 188.68 L236.86 188.66 L236.04 188.64 L235.22 188.62 L234.43 188.60 L233.64 188.58 L232.87 188.56 L232.11 188.54 L231.37 188.52 L230.64 188.50 L229.92 188.49 L229.22 188.47 L228.52 188.45 L227.84 188.43 L226.95 188.40 L226.08 188.37 L225.23 188.34 L224.39 188.32 L223.58 188.29 L222.78 188.26 L222.00 188.23 L221.23 188.21 L220.48 188.18 L219.75 188.15 L219.03 188.12 L218.33 188.09 L217.64 188.06 L216.97 188.03 L216.15 188.00 L215.34 187.96 L214.56 187.92 L213.80 187.88 L213.05 187.84 L212.32 187.81 L211.61 187.77 L210.92 187.73 L210.24 187.69 L209.58 187.65 L208.81 187.60 L208.05 187.55 L207.32 187.50 L206.61 187.46 L205.92 187.41 L205.24 187.36 L204.58 187.31 L203.84 187.25 L203.11 187.19 L202.41 187.13 L201.73 187.07 L201.07 187.00 L200.43 186.94 L199.71 186.87 L199.02 186.80 L198.35 186.73 L197.70 186.65 L197.08 186.58 L196.39 186.49 L195.73 186.41 L195.09 186.32 L194.47 186.24 L193.81 186.14 L193.17 186.04 L192.55 185.94 L191.90 185.83 L191.27 185.72 L190.66 185.60 L190.07 185.49 L189.46 185.36 L188.87 185.23 L188.25 185.09 L187.66 184.95 L187.09 184.81 L186.50 184.65 L185.93 184.49 L185.39 184.33 L184.83 184.16 L184.30 183.98 L183.75 183.79 L183.23 183.60 L182.69 183.39 L182.18 183.19 L181.69 182.97 L181.20 182.75 L180.72 182.52 L180.24 182.27 L179.78 182.02 L179.31 181.76 L178.86 181.49 L178.41 181.21 L177.98 180.92 L177.57 180.63 L177.15 180.32 L176.75 180.01 L176.36 179.69 L175.97 179.36 L175.60 179.02 L175.24 178.68 L174.87 178.33 L174.52 177.96 L174.18 177.60 L173.83 177.22 L173.50 176.83 L173.18 176.44 L172.86 176.05 L172.55 175.66 L172.24 175.25 L171.93 174.83 L171.63 174.41 L171.34 173.99 L171.05 173.57 L170.76 173.15 L170.48 172.72 L170.21 172.29 L169.93 171.86 L169.66 171.43 L169.39 171.00 L169.11 170.55 L168.84 170.11 L168.56 169.66 L168.28 169.21 L168.01 168.76 L167.74 168.32 L167.47 167.89 L167.20 167.46 L166.93 167.03 L166.65 166.59 L166.38 166.16 L166.10 165.74 L165.81 165.31 L165.52 164.88 L165.23 164.46 L164.93 164.04 L164.62 163.61 L164.32 163.21 L164.01 162.81 L163.69 162.42 L163.37 162.02 L163.04 161.63 L162.71 161.25 L162.37 160.88 L162.02 160.52 L161.66 160.15 L161.30 159.80 L160.93 159.46 L160.55 159.12 L160.17 158.80 L159.77 158.47 L159.37 158.16 L158.96 157.86 L158.54 157.56 L158.10 157.27 L157.67 156.99 L157.22 156.72 L156.77 156.46 L156.31 156.21 L155.83 155.96 L155.35 155.72 L154.85 155.49 L154.36 155.27 L153.85 155.06 L153.32 154.84 L152.80 154.65 L152.26 154.45 L151.73 154.27 L151.18 154.09 L150.61 153.91 L150.05 153.75 L149.47 153.59 L148.91 153.44 L148.33 153.29 L147.73 153.15 L147.15 153.02 L146.55 152.88 L145.92 152.76 L145.33 152.64 L144.71 152.52 L144.08 152.41 L143.48 152.30 L142.86 152.20 L142.21 152.10 L141.55 152.00 L140.93 151.91 L140.29 151.82 L139.63 151.73 L138.95 151.65 L138.33 151.57 L137.68 151.49 L137.02 151.42 L136.33 151.34 L135.63 151.27 L134.99 151.21 L134.33 151.14 L133.66 151.08 L132.97 151.02 L132.25 150.96 L131.52 150.90 L130.76 150.83 L130.10 150.78 L129.41 150.73 L128.71 150.68 L127.99 150.63 L127.25 150.58 L126.50 150.53 L125.72 150.48 L125.05 150.44 L124.37 150.40 L123.67 150.36 L122.96 150.32 L122.23 150.28 L121.48 150.24 L120.71 150.20 L119.93 150.16 L119.12 150.13 L118.30 150.09 L117.62 150.06 L116.94 150.03 L116.24 150.00 L115.52 149.97 L114.79 149.94 L114.04 149.91 L113.28 149.88 L112.51 149.85 L111.71 149.82 L110.90 149.79 L110.08 149.77 L109.23 149.74 L108.37 149.71 L107.49 149.68 L106.58 149.65 L105.89 149.63 L105.19 149.61 L104.48 149.59 L103.75 149.57 L103.02 149.55 L102.27 149.53 L101.50 149.51 L100.73 149.49 L99.94 149.47 L99.13 149.45 L98.32 149.43 L97.48 149.42 L96.64 149.40 L95.78 149.38 L94.90 149.36 L94.00 149.34 L93.09 149.32 L92.17 149.30 L91.22 149.28 L90.26 149.26 L89.28 149.25 L88.28 149.23 L87.26 149.21 L86.57 149.20 L85.88 149.19 L85.17 149.17 L84.45 149.16 L83.73 149.15 L82.99 149.14 L82.25 149.13 L81.49 149.11 L80.73 149.10 L79.96 149.09 L79.17 149.08 L78.38 149.07 L77.57 149.06 L76.75 149.05 L75.93 149.03 L75.09 149.02 L74.24 149.01 L73.38 149.00 L72.50 148.99 L71.62 148.98 L70.72 148.97 L69.81 148.96 L68.88 148.94 L67.95 148.93 L67.00 148.92 L66.03 148.91 L65.05 148.90 L64.06 148.89 L63.06 148.88 L62.04 148.87 L61.00 148.86 L59.95 148.85 L58.88 148.84 L57.80 148.83 L56.70 148.82 L55.59 148.81 L54.46 148.80 L53.31 148.79 L52.14 148.78 L50.96 148.77 L49.76 148.76 L48.53 148.75 L47.29 148.74 L46.04 148.73 L44.76 148.72 L43.46 148.71 L42.14 148.70 L40.80 148.69 L39.43 148.68 L38.05 148.67 L37.35 148.66 L36.64 148.66 L35.93 148.65 L35.21 148.65 L34.49 148.64 L33.76 148.64 L33.02 148.63 L32.28 148.63 L31.53 148.62 L30.78 148.62 L30.02 148.62 L29.25 148.61 L28.48 148.61 L27.70 148.60 L26.91 148.60 L26.12 148.59 L25.32 148.59 L24.52 148.58 L23.70 148.58"/>
</g>
<line x1="168.42" y1="179.80" x2="168.42" y2="477.30" stroke="#ff0000" stroke-width="1.15" stroke-dasharray="3.6 2.0" clip-path="url(#cl)"/>
<text x="95.41" y="496.70" text-anchor="middle" class="tk">-40</text>
<text x="131.63" y="496.70" text-anchor="middle" class="tk">-20</text>
<text x="168.15" y="496.70" text-anchor="middle" class="tk">0</text>
<text x="204.37" y="496.70" text-anchor="middle" class="tk">20</text>
<text x="240.59" y="496.70" text-anchor="middle" class="tk">40</text>
<line x1="83.60" y1="452.50" x2="120.60" y2="452.50" stroke="#00007f" stroke-width="2.4"/>
<text x="124.40" y="457.20" class="lg">r<tspan dy="6.4" font-size="10.5">0</tspan><tspan dy="-6.4" dx="0.6">/d=0</tspan></text>
<text x="157.50" y="516.00" class="ti">d/a<tspan dy="9.5" dx="-1.2" font-size="14">0</tspan></text>
<rect x="284.75" y="179.60" width="181.10" height="297.10" fill="none" stroke="#000" stroke-width="1.2"/>
<path d="M302.86 476.70 v-5.50 M302.86 179.60 v5.90 M320.97 476.70 v-2.70 M320.97 179.60 v3.30 M339.08 476.70 v-5.50 M339.08 179.60 v5.90 M357.19 476.70 v-2.70 M357.19 179.60 v3.30 M375.30 476.70 v-5.50 M375.30 179.60 v5.90 M393.41 476.70 v-2.70 M393.41 179.60 v3.30 M411.52 476.70 v-5.50 M411.52 179.60 v5.90 M429.63 476.70 v-2.70 M429.63 179.60 v3.30 M447.74 476.70 v-5.50 M447.74 179.60 v5.90 M284.75 455.48 h3.10 M465.85 455.48 h-3.10 M284.75 434.26 h5.90 M465.85 434.26 h-5.90 M284.75 413.04 h3.10 M465.85 413.04 h-3.10 M284.75 391.81 h5.90 M465.85 391.81 h-5.90 M284.75 370.59 h3.10 M465.85 370.59 h-3.10 M284.75 349.37 h5.90 M465.85 349.37 h-5.90 M284.75 328.15 h3.10 M465.85 328.15 h-3.10 M284.75 306.93 h5.90 M465.85 306.93 h-5.90 M284.75 285.71 h3.10 M465.85 285.71 h-3.10 M284.75 264.49 h5.90 M465.85 264.49 h-5.90 M284.75 243.26 h3.10 M465.85 243.26 h-3.10 M284.75 222.04 h5.90 M465.85 222.04 h-5.90 M284.75 200.82 h3.10 M465.85 200.82 h-3.10" stroke="#000" stroke-width="1.2" fill="none"/>
<line x1="375.55" y1="179.60" x2="375.55" y2="476.70" stroke="#000" stroke-width="1.05" stroke-dasharray="1.6 2.57"/>
<g clip-path="url(#cr)" fill="none" stroke="#00007f" stroke-width="2.45" stroke-linejoin="round">
<path d="M414.18 519.13 L414.02 518.55 L413.85 517.97 L413.69 517.38 L413.52 516.79 L413.35 516.19 L413.19 515.60 L413.02 515.00 L412.85 514.39 L412.68 513.79 L412.51 513.18 L412.34 512.57 L412.16 511.96 L412.01 511.41 L411.86 510.86 L411.70 510.31 L411.55 509.76 L411.39 509.21 L411.23 508.65 L411.08 508.09 L410.92 507.53 L410.76 506.97 L410.60 506.41 L410.44 505.84 L410.28 505.27 L410.12 504.70 L409.96 504.13 L409.80 503.56 L409.64 502.99 L409.47 502.41 L409.31 501.83 L409.15 501.25 L408.98 500.67 L408.82 500.09 L408.65 499.51 L408.49 498.92 L408.32 498.33 L408.16 497.74 L407.99 497.15 L407.82 496.56 L407.65 495.97 L407.49 495.38 L407.32 494.78 L407.15 494.18 L406.98 493.59 L406.81 492.99 L406.64 492.38 L406.47 491.78 L406.30 491.18 L406.12 490.58 L405.95 489.97 L405.78 489.36 L405.61 488.75 L405.44 488.15 L405.26 487.54 L405.09 486.92 L404.91 486.31 L404.74 485.70 L404.56 485.08 L404.39 484.47 L404.21 483.85 L404.04 483.24 L403.86 482.62 L403.69 482.00 L403.51 481.38 L403.33 480.76 L403.16 480.14 L402.98 479.52 L402.82 478.97 L402.67 478.43 L402.51 477.88 L402.35 477.33 L402.20 476.79 L402.04 476.24 L401.89 475.69 L401.73 475.14 L401.57 474.60 L401.41 474.05 L401.26 473.50 L401.10 472.95 L400.94 472.40 L400.78 471.85 L400.63 471.29 L400.47 470.74 L400.31 470.19 L400.15 469.64 L399.99 469.09 L399.83 468.53 L399.67 467.98 L399.52 467.43 L399.36 466.88 L399.20 466.32 L399.04 465.77 L398.88 465.22 L398.72 464.66 L398.56 464.11 L398.40 463.55 L398.24 463.00 L398.08 462.45 L397.92 461.89 L397.76 461.34 L397.60 460.78 L397.44 460.23 L397.28 459.68 L397.12 459.12 L396.96 458.57 L396.80 458.01 L396.64 457.46 L396.48 456.91 L396.32 456.35 L396.16 455.80 L396.00 455.24 L395.84 454.69 L395.68 454.14 L395.51 453.59 L395.35 453.03 L395.19 452.48 L395.03 451.93 L394.87 451.38 L394.71 450.82 L394.55 450.27 L394.39 449.72 L394.23 449.17 L394.07 448.62 L393.91 448.07 L393.75 447.52 L393.59 446.97 L393.43 446.42 L393.26 445.88 L393.10 445.33 L392.94 444.78 L392.78 444.23 L392.62 443.69 L392.46 443.14 L392.30 442.60 L392.14 442.05 L391.98 441.51 L391.82 440.96 L391.66 440.42 L391.50 439.88 L391.34 439.34 L391.18 438.79 L391.02 438.25 L390.84 437.64 L390.66 437.02 L390.48 436.41 L390.29 435.79 L390.11 435.18 L389.93 434.57 L389.75 433.96 L389.57 433.35 L389.39 432.74 L389.21 432.13 L389.02 431.52 L388.84 430.92 L388.66 430.31 L388.48 429.71 L388.30 429.11 L388.12 428.51 L387.94 427.91 L387.76 427.31 L387.58 426.71 L387.41 426.12 L387.23 425.52 L387.05 424.93 L386.87 424.34 L386.69 423.75 L386.51 423.16 L386.33 422.57 L386.16 421.99 L385.98 421.41 L385.80 420.82 L385.63 420.24 L385.45 419.66 L385.27 419.09 L385.10 418.51 L384.92 417.94 L384.75 417.36 L384.57 416.79 L384.40 416.22 L384.22 415.66 L384.05 415.09 L383.87 414.53 L383.70 413.97 L383.53 413.41 L383.35 412.85 L383.18 412.29 L383.01 411.74 L382.84 411.19 L382.66 410.63 L382.49 410.09 L382.32 409.54 L382.15 409.00 L381.98 408.45 L381.81 407.91 L381.64 407.37 L381.47 406.84 L381.30 406.30 L381.13 405.77 L380.94 405.18 L380.75 404.58 L380.56 403.99 L380.38 403.41 L380.19 402.82 L380.00 402.24 L379.81 401.66 L379.63 401.09 L379.44 400.51 L379.25 399.94 L379.07 399.38 L378.88 398.81 L378.70 398.25 L378.51 397.70 L378.33 397.14 L378.15 396.59 L377.96 396.04 L377.78 395.50 L377.60 394.96 L377.42 394.42 L377.24 393.89 L377.05 393.35 L376.87 392.83 L376.69 392.30 L376.51 391.78 L376.31 391.21 L376.11 390.63 L375.91 390.07 L375.71 389.51 L375.52 388.95 L375.32 388.40 L375.12 387.85 L374.92 387.30 L374.72 386.76 L374.53 386.23 L374.33 385.70 L374.13 385.17 L373.94 384.65 L373.74 384.13 L373.54 383.62 L373.35 383.11 L373.13 382.56 L372.91 382.02 L372.69 381.48 L372.48 380.94 L372.26 380.41 L372.04 379.89 L371.82 379.37 L371.60 378.86 L371.38 378.36 L371.16 377.86 L370.93 377.37 L370.71 376.88 L370.48 376.40 L370.26 375.93 L370.01 375.42 L369.75 374.92 L369.50 374.43 L369.24 373.94 L368.97 373.46 L368.71 372.99 L368.44 372.53 L368.16 372.07 L367.88 371.62 L367.59 371.19 L367.30 370.75 L367.00 370.33 L366.69 369.92 L366.37 369.51 L366.05 369.11 L365.71 368.72 L365.35 368.34 L364.99 367.96 L364.61 367.59 L364.21 367.24 L363.83 366.92 L363.43 366.60 L363.01 366.30 L362.57 366.00 L362.10 365.70 L361.66 365.44 L361.19 365.19 L360.69 364.94 L360.16 364.70 L359.65 364.48 L359.12 364.28 L358.55 364.07 L358.01 363.90 L357.44 363.72 L356.84 363.55 L356.28 363.41 L355.68 363.27 L355.06 363.13 L354.39 362.99 L353.78 362.88 L353.14 362.77 L352.47 362.66 L351.75 362.55 L351.12 362.46 L350.46 362.38 L349.77 362.29 L349.03 362.21 L348.26 362.12 L347.61 362.06 L346.93 362.00 L346.22 361.93 L345.48 361.87 L344.70 361.81 L343.88 361.75 L343.03 361.69 L342.35 361.65 L341.66 361.61 L340.93 361.57 L340.18 361.52 L339.39 361.48 L338.58 361.44 L337.73 361.40 L336.84 361.36 L335.92 361.32 L334.96 361.29 L333.95 361.25 L333.25 361.22 L332.54 361.20 L331.80 361.17 L331.04 361.15 L330.25 361.13 L329.45 361.10 L328.61 361.08 L327.75 361.06 L326.86 361.03 L325.94 361.01 L324.99 360.99 L324.01 360.97 L323.00 360.94 L321.95 360.92 L320.87 360.90 L319.74 360.88 L318.58 360.86 L317.38 360.84 L316.13 360.82 L314.83 360.80 L313.49 360.78 L312.80 360.77 L312.09 360.76 L311.38 360.75 L310.64 360.74 L309.90 360.73 L309.14 360.72 L308.37 360.71 L307.58 360.70 L306.77 360.69 L305.95 360.68 L305.11 360.67 L304.26 360.66 L303.38 360.65 L302.49 360.64 L301.58 360.64 L300.66 360.63 L299.71 360.62 L298.74 360.61 L297.75 360.60 L296.75 360.59 L295.72 360.58 L294.66 360.57 L293.59 360.57 L292.49 360.56 L291.36 360.55 L290.21 360.54 L289.04 360.53 L287.84 360.52 L286.61 360.52 L285.35 360.51 L284.06 360.50 L282.74 360.49 L281.39 360.48 L280.01 360.48 L278.60 360.47 L277.15 360.46 L275.67 360.45 L274.15 360.44 L272.59 360.44 L270.99 360.43 L269.35 360.42 L267.68 360.41 L265.95 360.41 L264.19 360.40 L262.37 360.39 L260.51 360.39 L258.60 360.38 L256.64 360.37 L254.63 360.36 L252.56 360.36 L250.43 360.35 L248.24 360.34 L245.99 360.34 L243.68 360.33 L241.30 360.32 L238.86 360.32 L236.34 360.31 L233.75 360.31 L231.08 360.30"/>
<path d="M592.01 359.79 L589.43 359.79 L586.89 359.78 L584.40 359.78 L581.94 359.78 L579.53 359.78 L577.16 359.78 L574.83 359.77 L572.54 359.77 L570.29 359.77 L568.07 359.77 L565.89 359.76 L563.74 359.76 L561.63 359.76 L559.55 359.76 L557.51 359.75 L555.50 359.75 L553.52 359.75 L551.57 359.75 L549.65 359.74 L547.77 359.74 L545.91 359.74 L544.08 359.74 L542.28 359.73 L540.50 359.73 L538.76 359.73 L537.03 359.73 L535.34 359.72 L533.67 359.72 L532.02 359.72 L530.40 359.72 L528.81 359.71 L527.23 359.71 L525.68 359.71 L524.16 359.70 L522.65 359.70 L521.17 359.70 L519.70 359.70 L518.26 359.69 L516.84 359.69 L515.44 359.69 L514.06 359.69 L512.69 359.68 L511.35 359.68 L510.02 359.68 L508.72 359.67 L507.43 359.67 L506.16 359.67 L504.90 359.67 L503.67 359.66 L502.45 359.66 L501.24 359.66 L500.05 359.65 L498.88 359.65 L497.73 359.65 L496.58 359.65 L495.46 359.64 L494.35 359.64 L493.25 359.64 L492.17 359.63 L491.10 359.63 L490.04 359.63 L489.00 359.62 L487.97 359.62 L486.95 359.62 L485.95 359.62 L484.96 359.61 L483.98 359.61 L483.02 359.61 L482.06 359.60 L481.12 359.60 L480.19 359.60 L479.27 359.59 L478.37 359.59 L477.47 359.59 L476.58 359.58 L475.71 359.58 L474.84 359.58 L473.99 359.57 L473.15 359.57 L472.31 359.57 L471.49 359.56 L470.67 359.56 L469.87 359.56 L469.07 359.55 L468.29 359.55 L467.51 359.55 L466.74 359.54 L465.98 359.54 L465.23 359.54 L464.49 359.53 L463.75 359.53 L463.03 359.53 L462.31 359.52 L461.60 359.52 L460.90 359.52 L459.52 359.51 L458.17 359.50 L456.85 359.50 L455.56 359.49 L454.30 359.48 L453.06 359.47 L451.85 359.47 L450.67 359.46 L449.51 359.45 L448.37 359.45 L447.26 359.44 L446.17 359.43 L445.11 359.42 L444.06 359.42 L443.04 359.41 L442.03 359.40 L441.05 359.39 L440.08 359.38 L439.14 359.38 L438.21 359.37 L437.30 359.36 L436.41 359.35 L435.53 359.34 L434.67 359.34 L433.83 359.33 L433.00 359.32 L432.19 359.31 L431.39 359.30 L430.61 359.29 L429.85 359.29 L429.09 359.28 L428.35 359.27 L427.62 359.26 L426.91 359.25 L426.21 359.24 L425.18 359.23 L424.18 359.22 L423.20 359.20 L422.25 359.19 L421.32 359.18 L420.41 359.16 L419.53 359.15 L418.67 359.13 L417.83 359.12 L417.01 359.11 L416.21 359.09 L415.43 359.08 L414.67 359.06 L413.93 359.05 L413.20 359.03 L412.49 359.02 L411.80 359.00 L410.90 358.98 L410.02 358.96 L409.18 358.94 L408.35 358.92 L407.55 358.90 L406.78 358.88 L406.02 358.86 L405.29 358.84 L404.58 358.82 L403.88 358.79 L403.04 358.77 L402.23 358.74 L401.45 358.71 L400.69 358.68 L399.95 358.65 L399.24 358.62 L398.55 358.59 L397.76 358.56 L396.99 358.52 L396.25 358.49 L395.53 358.45 L394.85 358.41 L394.18 358.37 L393.43 358.33 L392.72 358.28 L392.03 358.24 L391.37 358.19 L390.64 358.14 L389.94 358.08 L389.28 358.03 L388.56 357.96 L387.87 357.90 L387.22 357.83 L386.53 357.76 L385.86 357.68 L385.23 357.61 L384.57 357.52 L383.94 357.44 L383.29 357.34 L382.68 357.24 L382.04 357.14 L381.44 357.03 L380.83 356.91 L380.24 356.78 L379.66 356.65 L379.06 356.51 L378.50 356.36 L377.94 356.20 L377.38 356.03 L376.85 355.85 L376.32 355.66 L375.80 355.46 L375.31 355.25 L374.82 355.03 L374.33 354.79 L373.87 354.55 L373.42 354.29 L372.97 354.01 L372.55 353.73 L372.12 353.43 L371.72 353.13 L371.32 352.81 L370.94 352.48 L370.56 352.13 L370.19 351.78 L369.84 351.42 L369.50 351.06 L369.16 350.68 L368.83 350.29 L368.51 349.89 L368.20 349.49 L367.89 349.09 L367.59 348.68 L367.30 348.26 L367.01 347.84 L366.73 347.42 L366.45 346.99 L366.18 346.56 L365.91 346.12 L365.64 345.68 L365.37 345.24 L365.11 344.79 L364.85 344.34 L364.59 343.89 L364.33 343.44 L364.07 342.98 L363.81 342.52 L363.55 342.06 L363.29 341.60 L363.04 341.14 L362.78 340.67 L362.52 340.21 L362.26 339.74 L362.01 339.28 L361.75 338.83 L361.50 338.38 L361.25 337.93 L361.00 337.48 L360.74 337.03 L360.48 336.58 L360.22 336.13 L359.96 335.69 L359.69 335.24 L359.43 334.80 L359.16 334.36 L358.88 333.92 L358.60 333.48 L358.32 333.05 L358.04 332.62 L357.75 332.19 L357.45 331.76 L357.15 331.34 L356.84 330.92 L356.54 330.52 L356.23 330.12 L355.92 329.73 L355.60 329.33 L355.26 328.95 L354.92 328.57 L354.59 328.20 L354.24 327.84 L353.88 327.49 L353.51 327.14 L353.13 326.79 L352.75 326.46 L352.35 326.14 L351.94 325.82 L351.53 325.52 L351.11 325.22 L350.68 324.94 L350.24 324.66 L349.80 324.40 L349.34 324.15 L348.85 323.90 L348.37 323.66 L347.89 323.44 L347.39 323.22 L346.89 323.02 L346.37 322.82 L345.85 322.63 L345.31 322.45 L344.77 322.28 L344.21 322.12 L343.66 321.96 L343.08 321.81 L342.51 321.67 L341.92 321.53 L341.35 321.41 L340.74 321.28 L340.11 321.16 L339.51 321.05 L338.87 320.94 L338.26 320.84 L337.62 320.75 L336.96 320.65 L336.33 320.56 L335.68 320.48 L334.99 320.39 L334.35 320.32 L333.69 320.25 L332.99 320.17 L332.36 320.11 L331.69 320.05 L331.01 319.98 L330.29 319.92 L329.65 319.87 L328.98 319.81 L328.29 319.76 L327.57 319.71 L326.83 319.66 L326.17 319.62 L325.49 319.57 L324.80 319.53 L324.08 319.49 L323.33 319.45 L322.56 319.41 L321.77 319.36 L321.09 319.33 L320.39 319.30 L319.66 319.26 L318.92 319.23 L318.16 319.20 L317.37 319.17 L316.56 319.14 L315.73 319.10 L315.04 319.08 L314.34 319.05 L313.62 319.03 L312.89 319.01 L312.13 318.98 L311.36 318.96 L310.56 318.93 L309.75 318.91 L308.91 318.89 L308.05 318.86 L307.17 318.84 L306.27 318.82 L305.57 318.80 L304.86 318.78 L304.14 318.77 L303.40 318.75 L302.65 318.73 L301.88 318.72 L301.09 318.70 L300.29 318.68 L299.47 318.67 L298.63 318.65 L297.78 318.64 L296.90 318.62 L296.01 318.60 L295.10 318.59 L294.16 318.57 L293.21 318.56 L292.23 318.54 L291.23 318.53 L290.21 318.51 L289.51 318.50 L288.81 318.49 L288.09 318.48 L287.36 318.47 L286.62 318.46 L285.87 318.45 L285.11 318.44 L284.33 318.43 L283.54 318.42 L282.74 318.41 L281.93 318.41 L281.10 318.40 L280.26 318.39 L279.40 318.38 L278.53 318.37 L277.65 318.36 L276.75 318.35 L275.83 318.34 L274.90 318.33 L273.96 318.32 L272.99 318.31 L272.01 318.30 L271.02 318.30 L270.00 318.29 L268.97 318.28 L267.92 318.27 L266.85 318.26 L265.76 318.25 L264.65 318.24 L263.52 318.24 L262.37 318.23 L261.20 318.22 L260.00 318.21 L258.79 318.20 L257.55 318.19 L256.28 318.19 L255.00 318.18 L253.69 318.17 L252.35 318.16 L250.98 318.15 L249.59 318.15 L248.89 318.14 L248.18 318.14 L247.46 318.13 L246.73 318.13 L246.00 318.13 L245.25 318.12 L244.51 318.12 L243.75 318.11 L242.99 318.11 L242.21 318.11 L241.43 318.10 L240.65 318.10 L239.85 318.09 L239.05 318.09 L238.23 318.09 L237.41 318.08 L236.58 318.08 L235.75 318.08 L234.90 318.07 L234.04 318.07 L233.18 318.07 L232.31 318.06 L231.42 318.06 L230.53 318.05"/>
<path d="M591.32 317.26 L589.06 317.26 L586.83 317.26 L584.64 317.25 L582.48 317.25 L580.35 317.25 L578.24 317.25 L576.17 317.24 L574.13 317.24 L572.11 317.24 L570.12 317.23 L568.17 317.23 L566.23 317.23 L564.33 317.23 L562.45 317.22 L560.59 317.22 L558.76 317.22 L556.95 317.21 L555.17 317.21 L553.41 317.21 L551.68 317.21 L549.97 317.20 L548.28 317.20 L546.61 317.20 L544.97 317.19 L543.34 317.19 L541.74 317.19 L540.16 317.18 L538.59 317.18 L537.05 317.18 L535.53 317.18 L534.02 317.17 L532.54 317.17 L531.07 317.17 L529.63 317.16 L528.20 317.16 L526.78 317.16 L525.39 317.15 L524.01 317.15 L522.65 317.15 L521.30 317.14 L519.98 317.14 L518.66 317.14 L517.37 317.13 L516.09 317.13 L514.82 317.13 L513.57 317.12 L512.33 317.12 L511.11 317.12 L509.91 317.12 L508.71 317.11 L507.53 317.11 L506.37 317.11 L505.22 317.10 L504.08 317.10 L502.95 317.09 L501.84 317.09 L500.74 317.09 L499.65 317.08 L498.58 317.08 L497.51 317.08 L496.46 317.07 L495.42 317.07 L494.39 317.07 L493.38 317.06 L492.37 317.06 L491.38 317.06 L490.39 317.05 L489.42 317.05 L488.46 317.05 L487.51 317.04 L486.56 317.04 L485.63 317.04 L484.71 317.03 L483.80 317.03 L482.90 317.02 L482.00 317.02 L481.12 317.02 L480.25 317.01 L479.38 317.01 L478.53 317.01 L477.68 317.00 L476.84 317.00 L476.01 316.99 L475.19 316.99 L474.38 316.99 L473.58 316.98 L472.78 316.98 L471.99 316.98 L471.21 316.97 L470.44 316.97 L469.68 316.96 L468.92 316.96 L468.17 316.96 L467.43 316.95 L466.70 316.95 L465.97 316.95 L465.25 316.94 L464.54 316.94 L463.83 316.93 L463.14 316.93 L461.76 316.92 L460.41 316.91 L459.08 316.91 L457.78 316.90 L456.51 316.89 L455.26 316.88 L454.03 316.87 L452.82 316.86 L451.64 316.86 L450.48 316.85 L449.34 316.84 L448.22 316.83 L447.12 316.82 L446.04 316.81 L444.98 316.80 L443.94 316.80 L442.92 316.79 L441.91 316.78 L440.92 316.77 L439.95 316.76 L438.99 316.75 L438.06 316.74 L437.13 316.73 L436.23 316.72 L435.33 316.72 L434.46 316.71 L433.59 316.70 L432.75 316.69 L431.91 316.68 L431.09 316.67 L430.28 316.66 L429.49 316.65 L428.71 316.64 L427.94 316.63 L427.18 316.62 L426.43 316.61 L425.70 316.60 L424.98 316.59 L424.27 316.58 L423.56 316.57 L422.53 316.56 L421.53 316.54 L420.54 316.53 L419.58 316.51 L418.64 316.50 L417.72 316.48 L416.82 316.46 L415.94 316.45 L415.08 316.43 L414.23 316.42 L413.41 316.40 L412.60 316.38 L411.81 316.37 L411.03 316.35 L410.27 316.34 L409.53 316.32 L408.80 316.30 L408.09 316.28 L407.39 316.27 L406.70 316.25 L405.81 316.23 L404.94 316.20 L404.09 316.18 L403.27 316.16 L402.46 316.13 L401.68 316.11 L400.91 316.09 L400.17 316.06 L399.44 316.04 L398.73 316.01 L398.04 315.99 L397.36 315.96 L396.53 315.93 L395.73 315.90 L394.96 315.87 L394.20 315.83 L393.47 315.80 L392.76 315.77 L392.06 315.73 L391.39 315.70 L390.60 315.66 L389.84 315.62 L389.10 315.58 L388.39 315.53 L387.70 315.49 L387.03 315.45 L386.27 315.40 L385.54 315.35 L384.84 315.29 L384.15 315.24 L383.49 315.19 L382.77 315.13 L382.07 315.06 L381.39 315.00 L380.74 314.94 L380.03 314.87 L379.36 314.79 L378.71 314.72 L378.08 314.64 L377.41 314.56 L376.76 314.47 L376.15 314.39 L375.50 314.29 L374.87 314.19 L374.22 314.08 L373.60 313.97 L373.00 313.86 L372.38 313.74 L371.79 313.61 L371.18 313.48 L370.60 313.34 L370.01 313.19 L369.44 313.03 L368.87 312.87 L368.32 312.70 L367.76 312.52 L367.23 312.34 L366.69 312.14 L366.18 311.94 L365.67 311.72 L365.17 311.50 L364.68 311.26 L364.21 311.03 L363.73 310.77 L363.28 310.51 L362.82 310.24 L362.38 309.96 L361.96 309.68 L361.54 309.38 L361.13 309.07 L360.74 308.76 L360.34 308.44 L359.96 308.11 L359.58 307.77 L359.21 307.42 L358.84 307.06 L358.49 306.70 L358.14 306.34 L357.80 305.97 L357.47 305.59 L357.15 305.22 L356.82 304.82 L356.49 304.42 L356.18 304.02 L355.86 303.62 L355.55 303.21 L355.25 302.80 L354.95 302.38 L354.65 301.97 L354.35 301.55 L354.06 301.13 L353.77 300.70 L353.48 300.28 L353.19 299.85 L352.90 299.42 L352.62 298.99 L352.33 298.56 L352.05 298.13 L351.76 297.70 L351.48 297.27 L351.19 296.83 L350.91 296.40 L350.62 295.97 L350.33 295.53 L350.05 295.10 L349.76 294.67 L349.46 294.24 L349.17 293.81 L348.88 293.38 L348.58 292.95 L348.29 292.54 L348.00 292.13 L347.70 291.72 L347.40 291.32 L347.10 290.91 L346.79 290.51 L346.48 290.11 L346.16 289.71 L345.84 289.32 L345.51 288.93 L345.18 288.54 L344.84 288.15 L344.51 287.78 L344.16 287.42 L343.82 287.06 L343.46 286.70 L343.09 286.34 L342.71 285.99 L342.34 285.66 L341.96 285.33 L341.56 285.00 L341.15 284.68 L340.75 284.38 L340.33 284.07 L339.90 283.78 L339.47 283.50 L339.03 283.22 L338.57 282.95 L338.12 282.69 L337.64 282.43 L337.18 282.20 L336.69 281.96 L336.18 281.73 L335.68 281.51 L335.16 281.30 L334.65 281.10 L334.11 280.91 L333.58 280.72 L333.03 280.54 L332.50 280.38 L331.94 280.21 L331.35 280.05 L330.79 279.90 L330.19 279.76 L329.62 279.62 L329.02 279.49 L328.40 279.36 L327.80 279.24 L327.18 279.12 L326.59 279.01 L325.97 278.91 L325.33 278.80 L324.66 278.70 L324.03 278.61 L323.37 278.52 L322.69 278.43 L322.06 278.35 L321.40 278.27 L320.72 278.19 L320.01 278.11 L319.36 278.04 L318.69 277.98 L317.99 277.91 L317.27 277.84 L316.62 277.79 L315.95 277.73 L315.25 277.67 L314.54 277.62 L313.80 277.56 L313.03 277.51 L312.36 277.46 L311.66 277.42 L310.95 277.37 L310.21 277.33 L309.45 277.28 L308.67 277.24 L308.00 277.20 L307.31 277.17 L306.61 277.13 L305.89 277.09 L305.14 277.06 L304.38 277.02 L303.60 276.99 L302.79 276.96 L301.96 276.92 L301.29 276.90 L300.59 276.87 L299.88 276.84 L299.16 276.82 L298.41 276.79 L297.66 276.76 L296.88 276.74 L296.08 276.71 L295.27 276.69 L294.43 276.66 L293.58 276.64 L292.70 276.61 L291.80 276.59 L291.12 276.57 L290.42 276.55 L289.70 276.53 L288.97 276.51 L288.23 276.50 L287.48 276.48 L286.71 276.46 L285.92 276.44 L285.12 276.43 L284.30 276.41 L283.47 276.39 L282.62 276.37 L281.75 276.36 L280.87 276.34 L279.97 276.32 L279.04 276.31 L278.10 276.29 L277.14 276.27 L276.16 276.26 L275.16 276.24 L274.14 276.22 L273.44 276.21 L272.74 276.20 L272.02 276.19 L271.30 276.18 L270.56 276.17 L269.81 276.16 L269.06 276.15 L268.29 276.14 L267.51 276.13 L266.72 276.12 L265.91 276.11 L265.09 276.10 L264.27 276.09 L263.42 276.08 L262.57 276.07 L261.70 276.06 L260.82 276.05 L259.92 276.04 L259.01 276.03 L258.09 276.02 L257.15 276.01 L256.20 276.00 L255.23 275.99 L254.24 275.98 L253.24 275.97 L252.23 275.96 L251.19 275.95 L250.14 275.94 L249.07 275.93 L247.98 275.93 L246.88 275.92 L245.76 275.91 L244.61 275.90 L243.45 275.89 L242.27 275.88 L241.06 275.87 L239.84 275.86 L238.59 275.85 L237.33 275.84 L236.04 275.84 L234.72 275.83 L233.38 275.82 L232.02 275.81 L230.64 275.80"/>
<path d="M591.66 274.77 L589.49 274.76 L587.35 274.76 L585.24 274.76 L583.16 274.75 L581.10 274.75 L579.07 274.75 L577.07 274.75 L575.09 274.74 L573.14 274.74 L571.21 274.74 L569.31 274.73 L567.43 274.73 L565.57 274.73 L563.74 274.72 L561.93 274.72 L560.14 274.72 L558.38 274.71 L556.63 274.71 L554.91 274.71 L553.21 274.70 L551.53 274.70 L549.87 274.70 L548.23 274.70 L546.61 274.69 L545.01 274.69 L543.42 274.69 L541.86 274.68 L540.32 274.68 L538.79 274.68 L537.28 274.67 L535.79 274.67 L534.32 274.67 L532.86 274.66 L531.42 274.66 L530.00 274.66 L528.59 274.65 L527.20 274.65 L525.82 274.65 L524.46 274.64 L523.12 274.64 L521.79 274.63 L520.48 274.63 L519.18 274.63 L517.89 274.62 L516.62 274.62 L515.37 274.62 L514.12 274.61 L512.89 274.61 L511.68 274.61 L510.47 274.60 L509.29 274.60 L508.11 274.60 L506.94 274.59 L505.79 274.59 L504.65 274.59 L503.53 274.58 L502.41 274.58 L501.31 274.57 L500.21 274.57 L499.13 274.57 L498.07 274.56 L497.01 274.56 L495.96 274.56 L494.92 274.55 L493.90 274.55 L492.88 274.54 L491.88 274.54 L490.88 274.54 L489.90 274.53 L488.93 274.53 L487.96 274.53 L487.01 274.52 L486.06 274.52 L485.13 274.51 L484.20 274.51 L483.28 274.51 L482.37 274.50 L481.47 274.50 L480.58 274.49 L479.70 274.49 L478.83 274.49 L477.97 274.48 L477.11 274.48 L476.26 274.47 L475.42 274.47 L474.59 274.47 L473.77 274.46 L472.95 274.46 L472.14 274.45 L471.34 274.45 L470.55 274.45 L469.76 274.44 L468.99 274.44 L468.22 274.43 L467.45 274.43 L466.70 274.43 L465.95 274.42 L465.20 274.42 L464.47 274.41 L463.74 274.41 L463.02 274.40 L462.30 274.40 L461.59 274.40 L460.89 274.39 L460.19 274.39 L458.82 274.38 L457.47 274.37 L456.15 274.36 L454.84 274.35 L453.56 274.34 L452.31 274.34 L451.07 274.33 L449.86 274.32 L448.67 274.31 L447.49 274.30 L446.34 274.29 L445.21 274.28 L444.09 274.27 L443.00 274.26 L441.92 274.25 L440.86 274.24 L439.82 274.24 L438.79 274.23 L437.78 274.22 L436.79 274.21 L435.81 274.20 L434.85 274.19 L433.90 274.18 L432.97 274.17 L432.06 274.16 L431.15 274.15 L430.27 274.14 L429.39 274.13 L428.53 274.12 L427.68 274.11 L426.85 274.10 L426.02 274.09 L425.21 274.08 L424.41 274.07 L423.63 274.06 L422.85 274.05 L422.09 274.04 L421.34 274.03 L420.60 274.02 L419.87 274.01 L419.15 274.00 L418.44 273.98 L417.74 273.97 L417.05 273.96 L416.03 273.95 L415.04 273.93 L414.06 273.91 L413.11 273.90 L412.17 273.88 L411.26 273.86 L410.36 273.85 L409.48 273.83 L408.62 273.81 L407.78 273.80 L406.95 273.78 L406.14 273.76 L405.34 273.74 L404.56 273.73 L403.79 273.71 L403.04 273.69 L402.31 273.67 L401.58 273.65 L400.87 273.64 L400.18 273.62 L399.49 273.60 L398.60 273.58 L397.73 273.55 L396.88 273.53 L396.05 273.50 L395.24 273.47 L394.45 273.45 L393.68 273.42 L392.92 273.40 L392.18 273.37 L391.46 273.34 L390.76 273.32 L390.07 273.29 L389.39 273.26 L388.57 273.23 L387.77 273.20 L386.99 273.16 L386.23 273.13 L385.49 273.09 L384.77 273.06 L384.07 273.02 L383.39 272.98 L382.72 272.95 L381.94 272.90 L381.19 272.86 L380.45 272.81 L379.74 272.77 L379.05 272.72 L378.38 272.68 L377.72 272.63 L376.98 272.57 L376.27 272.52 L375.57 272.46 L374.90 272.41 L374.25 272.35 L373.53 272.28 L372.83 272.22 L372.16 272.15 L371.50 272.08 L370.80 272.00 L370.11 271.93 L369.46 271.85 L368.82 271.77 L368.14 271.68 L367.48 271.58 L366.85 271.49 L366.24 271.40 L365.60 271.29 L364.98 271.19 L364.38 271.08 L363.76 270.96 L363.15 270.85 L362.53 270.71 L361.93 270.58 L361.35 270.45 L360.75 270.30 L360.18 270.15 L359.60 269.99 L359.03 269.83 L358.49 269.66 L357.94 269.48 L357.41 269.30 L356.87 269.10 L356.35 268.90 L355.82 268.69 L355.32 268.47 L354.83 268.26 L354.34 268.02 L353.86 267.78 L353.38 267.53 L352.92 267.27 L352.48 267.01 L352.03 266.74 L351.59 266.46 L351.17 266.17 L350.74 265.87 L350.33 265.57 L349.93 265.26 L349.54 264.95 L349.14 264.62 L348.76 264.29 L348.38 263.95 L348.02 263.61 L347.65 263.26 L347.28 262.90 L346.92 262.53 L346.57 262.17 L346.23 261.80 L345.89 261.42 L345.56 261.05 L345.23 260.67 L344.91 260.29 L344.59 259.91 L344.26 259.51 L343.94 259.10 L343.62 258.70 L343.30 258.29 L342.98 257.88 L342.67 257.47 L342.36 257.06 L342.04 256.65 L341.74 256.24 L341.43 255.82 L341.12 255.41 L340.81 254.99 L340.50 254.57 L340.20 254.16 L339.89 253.74 L339.58 253.33 L339.27 252.91 L338.96 252.49 L338.64 252.08 L338.34 251.68 L338.04 251.28 L337.73 250.88 L337.42 250.49 L337.11 250.10 L336.80 249.70 L336.48 249.31 L336.16 248.92 L335.84 248.53 L335.51 248.15 L335.17 247.76 L334.83 247.38 L334.49 247.00 L334.14 246.62 L333.80 246.26 L333.45 245.91 L333.09 245.55 L332.73 245.20 L332.35 244.85 L331.97 244.51 L331.60 244.18 L331.22 243.86 L330.83 243.53 L330.42 243.22 L330.01 242.90 L329.60 242.60 L329.18 242.31 L328.74 242.02 L328.32 241.74 L327.88 241.47 L327.42 241.20 L326.97 240.95 L326.51 240.70 L326.03 240.45 L325.56 240.22 L325.07 239.99 L324.56 239.77 L324.07 239.56 L323.55 239.35 L323.01 239.14 L322.49 238.95 L321.94 238.76 L321.41 238.59 L320.86 238.42 L320.29 238.25 L319.73 238.09 L319.15 237.93 L318.59 237.79 L318.01 237.65 L317.41 237.51 L316.83 237.39 L316.24 237.26 L315.61 237.14 L315.02 237.03 L314.41 236.91 L313.78 236.80 L313.12 236.70 L312.50 236.60 L311.86 236.50 L311.19 236.41 L310.57 236.32 L309.93 236.24 L309.27 236.16 L308.58 236.07 L307.95 236.00 L307.30 235.93 L306.63 235.86 L305.94 235.79 L305.23 235.72 L304.58 235.66 L303.92 235.60 L303.24 235.54 L302.53 235.48 L301.81 235.42 L301.06 235.37 L300.40 235.32 L299.72 235.27 L299.03 235.22 L298.31 235.18 L297.57 235.13 L296.82 235.08 L296.04 235.04 L295.37 235.00 L294.69 234.96 L293.99 234.92 L293.28 234.88 L292.54 234.85 L291.79 234.81 L291.02 234.77 L290.22 234.74 L289.41 234.70 L288.58 234.67 L287.90 234.64 L287.20 234.61 L286.49 234.58 L285.76 234.55 L285.01 234.53 L284.25 234.50 L283.48 234.47 L282.68 234.45 L281.87 234.42 L281.04 234.39 L280.19 234.37 L279.32 234.34 L278.43 234.31 L277.75 234.29 L277.05 234.28 L276.35 234.26 L275.63 234.24 L274.90 234.22 L274.15 234.20 L273.39 234.18 L272.62 234.16 L271.83 234.14 L271.03 234.13 L270.21 234.11 L269.38 234.09 L268.53 234.07 L267.67 234.05 L266.79 234.04 L265.89 234.02 L264.98 234.00 L264.04 233.98 L263.09 233.97 L262.12 233.95 L261.13 233.93 L260.12 233.91 L259.09 233.90 L258.39 233.89 L257.68 233.87 L256.96 233.86 L256.23 233.85 L255.49 233.84 L254.74 233.83 L253.98 233.82 L253.21 233.81 L252.43 233.80 L251.64 233.79 L250.83 233.78 L250.02 233.77 L249.19 233.75 L248.35 233.74 L247.50 233.73 L246.63 233.72 L245.76 233.71 L244.87 233.70 L243.96 233.69 L243.05 233.68 L242.11 233.67 L241.17 233.66 L240.21 233.65 L239.24 233.64 L238.25 233.63 L237.24 233.62 L236.22 233.61 L235.19 233.60 L234.13 233.59 L233.06 233.58 L231.98 233.57 L230.87 233.56"/>
<path d="M591.31 232.28 L589.17 232.28 L587.06 232.28 L584.97 232.27 L582.91 232.27 L580.88 232.27 L578.87 232.27 L576.88 232.26 L574.92 232.26 L572.99 232.26 L571.07 232.25 L569.18 232.25 L567.32 232.25 L565.47 232.24 L563.65 232.24 L561.84 232.24 L560.06 232.23 L558.30 232.23 L556.56 232.23 L554.85 232.22 L553.15 232.22 L551.47 232.22 L549.81 232.21 L548.17 232.21 L546.54 232.21 L544.94 232.20 L543.35 232.20 L541.78 232.20 L540.23 232.19 L538.70 232.19 L537.19 232.19 L535.69 232.18 L534.20 232.18 L532.74 232.17 L531.29 232.17 L529.85 232.17 L528.44 232.16 L527.03 232.16 L525.65 232.16 L524.27 232.15 L522.91 232.15 L521.57 232.15 L520.24 232.14 L518.93 232.14 L517.63 232.14 L516.34 232.13 L515.06 232.13 L513.80 232.12 L512.56 232.12 L511.32 232.12 L510.10 232.11 L508.89 232.11 L507.70 232.11 L506.51 232.10 L505.34 232.10 L504.18 232.09 L503.03 232.09 L501.90 232.09 L500.77 232.08 L499.66 232.08 L498.55 232.07 L497.46 232.07 L496.38 232.07 L495.31 232.06 L494.25 232.06 L493.20 232.06 L492.17 232.05 L491.14 232.05 L490.12 232.04 L489.11 232.04 L488.11 232.04 L487.12 232.03 L486.14 232.03 L485.17 232.02 L484.21 232.02 L483.26 232.02 L482.32 232.01 L481.39 232.01 L480.46 232.00 L479.54 232.00 L478.64 232.00 L477.74 231.99 L476.85 231.99 L475.97 231.98 L475.09 231.98 L474.23 231.97 L473.37 231.97 L472.52 231.97 L471.67 231.96 L470.84 231.96 L470.01 231.95 L469.19 231.95 L468.38 231.94 L467.58 231.94 L466.78 231.94 L465.99 231.93 L465.21 231.93 L464.43 231.92 L463.66 231.92 L462.90 231.91 L462.14 231.91 L461.39 231.91 L460.65 231.90 L459.91 231.90 L459.18 231.89 L458.46 231.89 L457.74 231.88 L457.03 231.88 L456.33 231.87 L455.63 231.87 L454.25 231.86 L452.89 231.85 L451.56 231.84 L450.25 231.83 L448.96 231.82 L447.69 231.82 L446.45 231.81 L445.22 231.80 L444.01 231.79 L442.83 231.78 L441.66 231.77 L440.51 231.76 L439.38 231.75 L438.27 231.74 L437.17 231.73 L436.10 231.72 L435.04 231.71 L433.99 231.70 L432.96 231.69 L431.95 231.68 L430.95 231.67 L429.97 231.66 L429.01 231.65 L428.05 231.64 L427.12 231.63 L426.19 231.62 L425.28 231.61 L424.38 231.60 L423.50 231.59 L422.63 231.58 L421.77 231.57 L420.93 231.56 L420.09 231.55 L419.27 231.54 L418.46 231.53 L417.66 231.51 L416.88 231.50 L416.10 231.49 L415.33 231.48 L414.58 231.47 L413.84 231.46 L413.10 231.45 L412.38 231.44 L411.66 231.43 L410.96 231.42 L410.27 231.40 L409.24 231.39 L408.24 231.37 L407.25 231.35 L406.29 231.34 L405.34 231.32 L404.41 231.30 L403.50 231.28 L402.61 231.27 L401.74 231.25 L400.88 231.23 L400.03 231.21 L399.21 231.19 L398.40 231.18 L397.60 231.16 L396.82 231.14 L396.05 231.12 L395.30 231.10 L394.55 231.08 L393.83 231.06 L393.11 231.04 L392.41 231.03 L391.72 231.01 L390.82 230.98 L389.94 230.95 L389.08 230.93 L388.24 230.90 L387.42 230.87 L386.61 230.85 L385.83 230.82 L385.06 230.79 L384.31 230.77 L383.57 230.74 L382.85 230.71 L382.15 230.68 L381.46 230.66 L380.78 230.63 L379.95 230.59 L379.15 230.56 L378.37 230.52 L377.60 230.48 L376.86 230.45 L376.13 230.41 L375.42 230.37 L374.73 230.33 L374.05 230.29 L373.26 230.25 L372.49 230.20 L371.75 230.16 L371.02 230.11 L370.32 230.06 L369.63 230.01 L368.96 229.96 L368.31 229.92 L367.57 229.86 L366.85 229.80 L366.16 229.74 L365.48 229.68 L364.83 229.62 L364.10 229.55 L363.40 229.48 L362.72 229.41 L362.06 229.34 L361.42 229.27 L360.72 229.19 L360.05 229.10 L359.40 229.02 L358.77 228.94 L358.09 228.84 L357.44 228.75 L356.81 228.65 L356.20 228.55 L355.55 228.44 L354.93 228.33 L354.33 228.22 L353.70 228.10 L353.09 227.97 L352.50 227.85 L351.89 227.71 L351.30 227.57 L350.73 227.43 L350.14 227.27 L349.58 227.12 L349.03 226.96 L348.47 226.79 L347.93 226.61 L347.37 226.43 L346.83 226.24 L346.32 226.04 L345.79 225.84 L345.28 225.63 L344.79 225.42 L344.29 225.19 L343.81 224.96 L343.32 224.71 L342.84 224.47 L342.38 224.21 L341.92 223.95 L341.47 223.68 L341.03 223.40 L340.60 223.12 L340.17 222.83 L339.75 222.53 L339.34 222.23 L338.94 221.93 L338.54 221.61 L338.14 221.29 L337.75 220.96 L337.38 220.63 L337.01 220.30 L336.63 219.95 L336.26 219.60 L335.89 219.24 L335.53 218.89 L335.18 218.53 L334.83 218.16 L334.49 217.80 L334.15 217.43 L333.82 217.06 L333.49 216.69 L333.15 216.31 L332.81 215.91 L332.48 215.52 L332.14 215.13 L331.81 214.74 L331.48 214.34 L331.16 213.94 L330.83 213.55 L330.51 213.15 L330.18 212.75 L329.86 212.35 L329.54 211.95 L329.21 211.55 L328.89 211.15 L328.57 210.75 L328.24 210.35 L327.91 209.95 L327.59 209.55 L327.26 209.15 L326.92 208.76 L326.60 208.38 L326.28 208.00 L325.95 207.62 L325.62 207.24 L325.29 206.87 L324.96 206.49 L324.62 206.12 L324.27 205.75 L323.92 205.38 L323.57 205.02 L323.21 204.65 L322.84 204.29 L322.48 203.95 L322.12 203.60 L321.75 203.26 L321.37 202.93 L320.99 202.59 L320.59 202.26 L320.21 201.95 L319.81 201.63 L319.41 201.33 L318.99 201.02 L318.56 200.72 L318.15 200.43 L317.72 200.15 L317.27 199.86 L316.82 199.59 L316.37 199.33 L315.91 199.07 L315.43 198.81 L314.97 198.57 L314.48 198.33 L313.99 198.10 L313.50 197.88 L312.99 197.66 L312.47 197.45 L311.96 197.25 L311.44 197.05 L310.89 196.86 L310.36 196.68 L309.81 196.50 L309.24 196.32 L308.69 196.16 L308.11 196.00 L307.52 195.84 L306.95 195.69 L306.36 195.55 L305.74 195.40 L305.15 195.27 L304.54 195.14 L303.91 195.02 L303.31 194.90 L302.69 194.79 L302.05 194.67 L301.45 194.57 L300.82 194.47 L300.18 194.37 L299.51 194.27 L298.89 194.19 L298.25 194.10 L297.59 194.01 L296.91 193.93 L296.28 193.85 L295.64 193.78 L294.98 193.70 L294.29 193.63 L293.59 193.56 L292.86 193.49 L292.20 193.43 L291.53 193.36 L290.83 193.30 L290.12 193.24 L289.38 193.18 L288.63 193.12 L287.96 193.07 L287.27 193.02 L286.57 192.97 L285.85 192.92 L285.11 192.88 L284.35 192.83 L283.57 192.78 L282.90 192.74 L282.21 192.70 L281.51 192.66 L280.80 192.62 L280.06 192.58 L279.31 192.55 L278.54 192.51 L277.75 192.47 L276.95 192.43 L276.12 192.40 L275.44 192.37 L274.75 192.34 L274.04 192.31 L273.32 192.28 L272.58 192.25 L271.83 192.22 L271.06 192.20 L270.28 192.17 L269.48 192.14 L268.66 192.11 L267.83 192.08 L266.97 192.06 L266.10 192.03 L265.20 192.00 L264.52 191.98 L263.83 191.96 L263.12 191.94 L262.40 191.92 L261.67 191.90 L260.93 191.88 L260.17 191.86 L259.40 191.85 L258.61 191.83 L257.81 191.81 L257.00 191.79 L256.17 191.77 L255.33 191.75 L254.47 191.73 L253.60 191.71 L252.71 191.69 L251.80 191.68 L250.88 191.66 L249.94 191.64 L248.98 191.62 L248.00 191.60 L247.00 191.59 L245.99 191.57 L245.30 191.56 L244.60 191.55 L243.90 191.53 L243.18 191.52 L242.45 191.51 L241.72 191.50 L240.97 191.49 L240.22 191.48 L239.45 191.47 L238.68 191.45 L237.89 191.44 L237.09 191.43 L236.28 191.42 L235.46 191.41 L234.63 191.40 L233.79 191.39 L232.94 191.38 L232.07 191.37 L231.19 191.35"/>
<path d="M591.87 189.81 L589.72 189.81 L587.59 189.81 L585.49 189.80 L583.41 189.80 L581.36 189.80 L579.33 189.79 L577.33 189.79 L575.35 189.79 L573.39 189.78 L571.46 189.78 L569.55 189.78 L567.66 189.77 L565.79 189.77 L563.95 189.77 L562.12 189.76 L560.32 189.76 L558.53 189.76 L556.77 189.75 L555.02 189.75 L553.30 189.75 L551.59 189.74 L549.91 189.74 L548.24 189.74 L546.59 189.73 L544.96 189.73 L543.35 189.72 L541.75 189.72 L540.17 189.72 L538.61 189.71 L537.07 189.71 L535.54 189.71 L534.03 189.70 L532.53 189.70 L531.05 189.70 L529.59 189.69 L528.14 189.69 L526.71 189.68 L525.29 189.68 L523.89 189.68 L522.50 189.67 L521.13 189.67 L519.77 189.67 L518.42 189.66 L517.09 189.66 L515.77 189.66 L514.47 189.65 L513.17 189.65 L511.90 189.64 L510.63 189.64 L509.38 189.64 L508.14 189.63 L506.91 189.63 L505.69 189.62 L504.49 189.62 L503.30 189.62 L502.12 189.61 L500.95 189.61 L499.79 189.60 L498.65 189.60 L497.51 189.60 L496.39 189.59 L495.28 189.59 L494.18 189.58 L493.09 189.58 L492.00 189.58 L490.93 189.57 L489.87 189.57 L488.82 189.56 L487.78 189.56 L486.75 189.56 L485.73 189.55 L484.72 189.55 L483.72 189.54 L482.73 189.54 L481.74 189.54 L480.77 189.53 L479.81 189.53 L478.85 189.52 L477.90 189.52 L476.96 189.51 L476.03 189.51 L475.11 189.51 L474.20 189.50 L473.29 189.50 L472.39 189.49 L471.51 189.49 L470.62 189.48 L469.75 189.48 L468.89 189.48 L468.03 189.47 L467.18 189.47 L466.34 189.46 L465.50 189.46 L464.67 189.45 L463.85 189.45 L463.04 189.45 L462.23 189.44 L461.43 189.44 L460.64 189.43 L459.85 189.43 L459.07 189.42 L458.30 189.42 L457.54 189.41 L456.78 189.41 L456.02 189.40 L455.28 189.40 L454.54 189.40 L453.80 189.39 L453.07 189.39 L452.35 189.38 L451.64 189.38 L450.93 189.37 L450.22 189.37 L449.52 189.36 L448.15 189.35 L446.79 189.34 L445.45 189.34 L444.14 189.33 L442.85 189.32 L441.58 189.31 L440.33 189.30 L439.10 189.29 L437.88 189.28 L436.69 189.27 L435.52 189.26 L434.36 189.25 L433.22 189.24 L432.10 189.23 L431.00 189.22 L429.91 189.21 L428.84 189.20 L427.78 189.19 L426.74 189.18 L425.72 189.17 L424.71 189.16 L423.72 189.15 L422.74 189.14 L421.77 189.13 L420.82 189.11 L419.89 189.10 L418.96 189.09 L418.05 189.08 L417.15 189.07 L416.27 189.06 L415.40 189.05 L414.53 189.04 L413.69 189.03 L412.85 189.02 L412.02 189.01 L411.21 189.00 L410.41 188.98 L409.62 188.97 L408.83 188.96 L408.06 188.95 L407.30 188.94 L406.55 188.93 L405.81 188.92 L405.08 188.90 L404.36 188.89 L403.65 188.88 L402.95 188.87 L402.25 188.86 L401.23 188.84 L400.23 188.82 L399.24 188.81 L398.28 188.79 L397.33 188.77 L396.40 188.75 L395.49 188.73 L394.59 188.71 L393.71 188.70 L392.85 188.68 L392.00 188.66 L391.17 188.64 L390.35 188.62 L389.55 188.60 L388.76 188.58 L387.99 188.56 L387.22 188.54 L386.48 188.52 L385.74 188.50 L385.02 188.49 L384.31 188.47 L383.61 188.45 L382.92 188.43 L382.02 188.40 L381.14 188.37 L380.28 188.34 L379.44 188.32 L378.62 188.29 L377.82 188.26 L377.03 188.23 L376.26 188.21 L375.50 188.18 L374.76 188.15 L374.04 188.12 L373.33 188.09 L372.63 188.06 L371.95 188.03 L371.12 188.00 L370.30 187.96 L369.51 187.92 L368.74 187.88 L367.98 187.84 L367.24 187.81 L366.52 187.77 L365.82 187.73 L365.13 187.69 L364.46 187.65 L363.67 187.60 L362.91 187.55 L362.17 187.50 L361.44 187.46 L360.73 187.41 L360.05 187.36 L359.38 187.31 L358.72 187.26 L357.98 187.20 L357.26 187.14 L356.56 187.07 L355.88 187.01 L355.22 186.95 L354.57 186.89 L353.86 186.82 L353.17 186.74 L352.50 186.67 L351.84 186.60 L351.21 186.52 L350.52 186.44 L349.85 186.35 L349.20 186.26 L348.58 186.18 L347.90 186.08 L347.25 185.98 L346.62 185.88 L346.01 185.78 L345.36 185.67 L344.73 185.55 L344.13 185.44 L343.54 185.32 L342.92 185.19 L342.33 185.06 L341.75 184.93 L341.15 184.79 L340.57 184.64 L340.01 184.49 L339.42 184.33 L338.86 184.17 L338.32 184.01 L337.76 183.83 L337.21 183.65 L336.69 183.47 L336.15 183.27 L335.63 183.07 L335.13 182.87 L334.61 182.66 L334.11 182.44 L333.63 182.22 L333.13 181.98 L332.66 181.74 L332.19 181.50 L331.72 181.25 L331.26 180.99 L330.81 180.72 L330.35 180.44 L329.91 180.16 L329.48 179.88 L329.06 179.59 L328.63 179.29 L328.21 178.98 L327.80 178.67 L327.40 178.36 L327.01 178.04 L326.63 177.72 L326.24 177.39 L325.85 177.05 L325.48 176.71 L325.10 176.37 L324.74 176.02 L324.38 175.67 L324.02 175.32 L323.67 174.97 L323.31 174.61 L322.95 174.23 L322.60 173.86 L322.25 173.49 L321.90 173.11 L321.56 172.74 L321.21 172.36 L320.87 171.98 L320.54 171.60 L320.20 171.22 L319.86 170.84 L319.53 170.45 L319.20 170.07 L318.86 169.69 L318.53 169.31 L318.20 168.92 L317.86 168.54 L317.53 168.16 L317.19 167.77 L316.85 167.39 L316.51 167.01 L316.17 166.63 L315.83 166.25 L315.49 165.87 L315.14 165.49 L314.79 165.11 L314.43 164.73 L314.09 164.38 L313.75 164.02 L313.39 163.66 L313.04 163.31 L312.68 162.96 L312.32 162.61 L311.94 162.26 L311.57 161.91 L311.18 161.57 L310.79 161.22 L310.41 160.90 L310.03 160.58 L309.63 160.26 L309.23 159.94 L308.81 159.62 L308.41 159.33 L308.00 159.03 L307.58 158.74 L307.14 158.45 L306.70 158.16 L306.26 157.89 L305.81 157.62 L305.35 157.35 L304.88 157.09 L304.42 156.84 L303.94 156.60 L303.45 156.35 L302.97 156.13 L302.47 155.90 L301.96 155.68 L301.47 155.48 L300.95 155.27 L300.42 155.07 L299.91 154.88 L299.38 154.69 L298.83 154.51 L298.26 154.33 L297.71 154.16 L297.14 154.00 L296.55 153.83 L295.99 153.68 L295.40 153.53 L294.80 153.38 L294.22 153.25 L293.62 153.12 L293.00 152.98 L292.42 152.86 L291.81 152.74 L291.19 152.63 L290.54 152.51 L289.94 152.41 L289.31 152.30 L288.66 152.20 L287.99 152.10 L287.37 152.01 L286.73 151.92 L286.08 151.83 L285.40 151.74 L284.69 151.66 L284.05 151.58 L283.39 151.50 L282.71 151.43 L282.01 151.35 L281.28 151.28 L280.63 151.22 L279.97 151.15 L279.28 151.09 L278.57 151.03 L277.85 150.97 L277.10 150.90 L276.44 150.85 L275.77 150.80 L275.08 150.75 L274.37 150.70 L273.64 150.65 L272.90 150.60 L272.13 150.55 L271.35 150.50 L270.68 150.46 L269.99 150.42 L269.29 150.38 L268.57 150.34 L267.84 150.30 L267.09 150.26 L266.32 150.22 L265.53 150.18 L264.73 150.14 L263.90 150.10 L263.22 150.07 L262.54 150.04 L261.83 150.01 L261.12 149.98 L260.39 149.95 L259.64 149.92 L258.88 149.90 L258.11 149.87 L257.31 149.84 L256.50 149.81 L255.68 149.78 L254.83 149.75 L253.97 149.72 L253.09 149.70 L252.19 149.67 L251.51 149.65 L250.81 149.63 L250.10 149.61 L249.38 149.59 L248.64 149.57 L247.89 149.55 L247.13 149.53 L246.36 149.51 L245.58 149.49 L244.78 149.47 L243.96 149.45 L243.14 149.43 L242.29 149.41 L241.44 149.39 L240.57 149.37 L239.68 149.35 L238.77 149.33 L237.85 149.31 L236.91 149.30 L235.96 149.28 L234.99 149.26 L234.00 149.24 L232.99 149.22 L231.96 149.20 L231.26 149.19 L230.56 149.18"/>
</g>
<line x1="319.34" y1="179.60" x2="402.56" y2="478.40" stroke="#ff0000" stroke-width="1.2" stroke-dasharray="3.6 2.0" clip-path="url(#cr)"/>
<text x="302.56" y="496.70" text-anchor="middle" class="tk">-40</text>
<text x="338.78" y="496.70" text-anchor="middle" class="tk">-20</text>
<text x="375.30" y="496.70" text-anchor="middle" class="tk">0</text>
<text x="411.52" y="496.70" text-anchor="middle" class="tk">20</text>
<text x="447.74" y="496.70" text-anchor="middle" class="tk">40</text>
<line x1="288.95" y1="451.60" x2="325.95" y2="451.60" stroke="#00007f" stroke-width="2.4"/>
<text x="329.75" y="456.30" class="lg">r<tspan dy="6.4" font-size="10.5">0</tspan><tspan dy="-6.4" dx="0.6">/d=-3</tspan></text>
<text x="364.05" y="515.00" class="ti">d/a<tspan dy="9.5" dx="-1.2" font-size="14">0</tspan></text>
<text x="71.4" y="482.20" text-anchor="end" class="tk">-4</text>
<text x="71.4" y="439.76" text-anchor="end" class="tk">-2</text>
<text x="71.4" y="397.31" text-anchor="end" class="tk">0</text>
<text x="71.4" y="354.87" text-anchor="end" class="tk">2</text>
<text x="71.4" y="312.43" text-anchor="end" class="tk">4</text>
<text x="71.4" y="269.99" text-anchor="end" class="tk">6</text>
<text x="71.4" y="227.54" text-anchor="end" class="tk">8</text>
<text x="71.4" y="185.10" text-anchor="end" class="tk">10</text>
<text transform="translate(51,319) rotate(-90)" text-anchor="middle" class="ti2">E/<tspan font-style="italic">ħ</tspan>ω</text>
</svg>
</body></html>
